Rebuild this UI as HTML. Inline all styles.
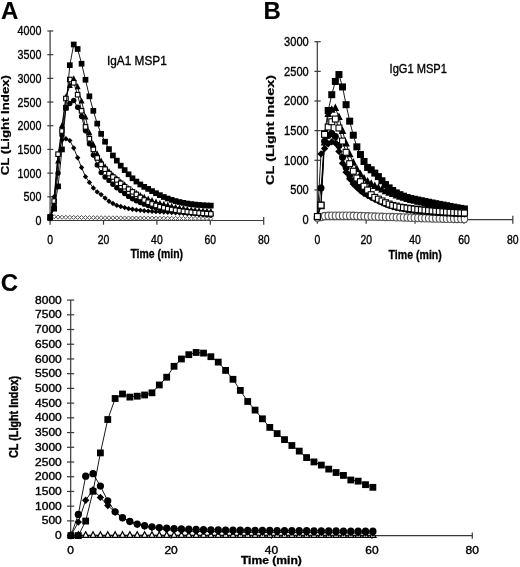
<!DOCTYPE html>
<html><head><meta charset="utf-8"><style>
html,body{margin:0;padding:0;background:#fff;width:520px;height:567px;overflow:hidden}
svg text{font-family:"Liberation Sans",sans-serif}
</style></head><body>
<svg width="520" height="567" viewBox="0 0 520 567" style="will-change:transform;display:block;font-family:'Liberation Sans', sans-serif">
<rect width="520" height="567" fill="#fff"/>
<g stroke="#383838" stroke-width="1.2" fill="none">
<path d="M50.10 30.98V220.50H263.70"/>
<path d="M47.30 220.50H53.30"/>
<path d="M47.30 196.81H53.30"/>
<path d="M47.30 173.12H53.30"/>
<path d="M47.30 149.43H53.30"/>
<path d="M47.30 125.74H53.30"/>
<path d="M47.30 102.05H53.30"/>
<path d="M47.30 78.36H53.30"/>
<path d="M47.30 54.67H53.30"/>
<path d="M47.30 30.98H53.30"/>
<path d="M50.10 220.50V224.70"/>
<path d="M103.50 220.50V224.70"/>
<path d="M156.90 220.50V224.70"/>
<path d="M210.30 220.50V224.70"/>
<path d="M263.70 217.00V224.70"/>
</g>
<text transform="translate(41.40,224.95) scale(0.870,1)" font-size="12.3" font-weight="normal" text-anchor="end" fill="#000" stroke="#000" stroke-width="0.35" >0</text>
<text transform="translate(41.40,201.26) scale(0.870,1)" font-size="12.3" font-weight="normal" text-anchor="end" fill="#000" stroke="#000" stroke-width="0.35" >500</text>
<text transform="translate(41.40,177.57) scale(0.870,1)" font-size="12.3" font-weight="normal" text-anchor="end" fill="#000" stroke="#000" stroke-width="0.35" >1000</text>
<text transform="translate(41.40,153.88) scale(0.870,1)" font-size="12.3" font-weight="normal" text-anchor="end" fill="#000" stroke="#000" stroke-width="0.35" >1500</text>
<text transform="translate(41.40,130.19) scale(0.870,1)" font-size="12.3" font-weight="normal" text-anchor="end" fill="#000" stroke="#000" stroke-width="0.35" >2000</text>
<text transform="translate(41.40,106.50) scale(0.870,1)" font-size="12.3" font-weight="normal" text-anchor="end" fill="#000" stroke="#000" stroke-width="0.35" >2500</text>
<text transform="translate(41.40,82.81) scale(0.870,1)" font-size="12.3" font-weight="normal" text-anchor="end" fill="#000" stroke="#000" stroke-width="0.35" >3000</text>
<text transform="translate(41.40,59.12) scale(0.870,1)" font-size="12.3" font-weight="normal" text-anchor="end" fill="#000" stroke="#000" stroke-width="0.35" >3500</text>
<text transform="translate(41.40,35.43) scale(0.870,1)" font-size="12.3" font-weight="normal" text-anchor="end" fill="#000" stroke="#000" stroke-width="0.35" >4000</text>
<text transform="translate(50.10,244.00) scale(0.870,1)" font-size="12.0" font-weight="normal" text-anchor="middle" fill="#000" stroke="#000" stroke-width="0.35" >0</text>
<text transform="translate(103.50,244.00) scale(0.870,1)" font-size="12.0" font-weight="normal" text-anchor="middle" fill="#000" stroke="#000" stroke-width="0.35" >20</text>
<text transform="translate(156.90,244.00) scale(0.870,1)" font-size="12.0" font-weight="normal" text-anchor="middle" fill="#000" stroke="#000" stroke-width="0.35" >40</text>
<text transform="translate(210.30,244.00) scale(0.870,1)" font-size="12.0" font-weight="normal" text-anchor="middle" fill="#000" stroke="#000" stroke-width="0.35" >60</text>
<text transform="translate(263.70,244.00) scale(0.870,1)" font-size="12.0" font-weight="normal" text-anchor="middle" fill="#000" stroke="#000" stroke-width="0.35" >80</text>
<text transform="translate(156.70,257.80) scale(0.830,1)" font-size="12.6" font-weight="bold" text-anchor="middle" fill="#000" stroke="#000" stroke-width="0.3" >Time (min)</text>
<text transform="translate(9.40,125.15) rotate(-90) scale(1.235,1)" font-size="10.7" font-weight="bold" text-anchor="middle" fill="#000" stroke="#000" stroke-width="0.2" >CL (Light Index)</text>
<text transform="translate(107.00,64.60) scale(0.890,1)" font-size="13.3" font-weight="normal" text-anchor="start" fill="#000" stroke="#000" stroke-width="0.35" >IgA1 MSP1</text>
<text transform="translate(1.00,18.80)" font-size="24" font-weight="bold" text-anchor="start" fill="#000" stroke="#000" stroke-width="0.12" >A</text>
<polyline points="50.23,214.90 54.15,216.72 58.07,217.10 61.98,217.28 65.90,217.34 69.82,217.38 73.73,217.42 77.65,217.46 81.57,217.51 85.49,217.55 89.40,217.60 93.32,217.64 97.24,217.69 101.15,217.73 105.07,217.77 108.99,217.81 112.90,217.84 116.82,217.88 120.74,217.92 124.65,217.95 128.57,217.99 132.49,218.02 136.41,218.06 140.32,218.09 144.24,218.12 148.16,218.16 152.07,218.19 155.99,218.22 159.91,218.25 163.82,218.28 167.74,218.31 171.66,218.34 175.57,218.37 179.49,218.40 183.41,218.43 187.32,218.45 191.24,218.48 195.16,218.51 199.08,218.53 202.99,218.56 206.91,218.58 210.83,218.60" fill="none" stroke="#333" stroke-width="0.9"/>
<path d="M50.23 212.85L52.28 214.90L50.23 216.95L48.18 214.90Z" fill="#fff" stroke="#444" stroke-width="0.9"/>
<path d="M54.15 214.67L56.20 216.72L54.15 218.77L52.10 216.72Z" fill="#fff" stroke="#444" stroke-width="0.9"/>
<path d="M58.07 215.05L60.12 217.10L58.07 219.15L56.02 217.10Z" fill="#fff" stroke="#444" stroke-width="0.9"/>
<path d="M61.98 215.23L64.03 217.28L61.98 219.33L59.93 217.28Z" fill="#fff" stroke="#444" stroke-width="0.9"/>
<path d="M65.90 215.29L67.95 217.34L65.90 219.39L63.85 217.34Z" fill="#fff" stroke="#444" stroke-width="0.9"/>
<path d="M69.82 215.33L71.87 217.38L69.82 219.43L67.77 217.38Z" fill="#fff" stroke="#444" stroke-width="0.9"/>
<path d="M73.73 215.37L75.78 217.42L73.73 219.47L71.68 217.42Z" fill="#fff" stroke="#444" stroke-width="0.9"/>
<path d="M77.65 215.41L79.70 217.46L77.65 219.51L75.60 217.46Z" fill="#fff" stroke="#444" stroke-width="0.9"/>
<path d="M81.57 215.46L83.62 217.51L81.57 219.56L79.52 217.51Z" fill="#fff" stroke="#444" stroke-width="0.9"/>
<path d="M85.49 215.50L87.54 217.55L85.49 219.60L83.44 217.55Z" fill="#fff" stroke="#444" stroke-width="0.9"/>
<path d="M89.40 215.55L91.45 217.60L89.40 219.65L87.35 217.60Z" fill="#fff" stroke="#444" stroke-width="0.9"/>
<path d="M93.32 215.59L95.37 217.64L93.32 219.69L91.27 217.64Z" fill="#fff" stroke="#444" stroke-width="0.9"/>
<path d="M97.24 215.64L99.29 217.69L97.24 219.74L95.19 217.69Z" fill="#fff" stroke="#444" stroke-width="0.9"/>
<path d="M101.15 215.68L103.20 217.73L101.15 219.78L99.10 217.73Z" fill="#fff" stroke="#444" stroke-width="0.9"/>
<path d="M105.07 215.72L107.12 217.77L105.07 219.82L103.02 217.77Z" fill="#fff" stroke="#444" stroke-width="0.9"/>
<path d="M108.99 215.76L111.04 217.81L108.99 219.86L106.94 217.81Z" fill="#fff" stroke="#444" stroke-width="0.9"/>
<path d="M112.90 215.79L114.95 217.84L112.90 219.89L110.85 217.84Z" fill="#fff" stroke="#444" stroke-width="0.9"/>
<path d="M116.82 215.83L118.87 217.88L116.82 219.93L114.77 217.88Z" fill="#fff" stroke="#444" stroke-width="0.9"/>
<path d="M120.74 215.87L122.79 217.92L120.74 219.97L118.69 217.92Z" fill="#fff" stroke="#444" stroke-width="0.9"/>
<path d="M124.65 215.90L126.70 217.95L124.65 220.00L122.60 217.95Z" fill="#fff" stroke="#444" stroke-width="0.9"/>
<path d="M128.57 215.94L130.62 217.99L128.57 220.04L126.52 217.99Z" fill="#fff" stroke="#444" stroke-width="0.9"/>
<path d="M132.49 215.97L134.54 218.02L132.49 220.07L130.44 218.02Z" fill="#fff" stroke="#444" stroke-width="0.9"/>
<path d="M136.41 216.01L138.46 218.06L136.41 220.11L134.36 218.06Z" fill="#fff" stroke="#444" stroke-width="0.9"/>
<path d="M140.32 216.04L142.37 218.09L140.32 220.14L138.27 218.09Z" fill="#fff" stroke="#444" stroke-width="0.9"/>
<path d="M144.24 216.07L146.29 218.12L144.24 220.17L142.19 218.12Z" fill="#fff" stroke="#444" stroke-width="0.9"/>
<path d="M148.16 216.11L150.21 218.16L148.16 220.21L146.11 218.16Z" fill="#fff" stroke="#444" stroke-width="0.9"/>
<path d="M152.07 216.14L154.12 218.19L152.07 220.24L150.02 218.19Z" fill="#fff" stroke="#444" stroke-width="0.9"/>
<path d="M155.99 216.17L158.04 218.22L155.99 220.27L153.94 218.22Z" fill="#fff" stroke="#444" stroke-width="0.9"/>
<path d="M159.91 216.20L161.96 218.25L159.91 220.30L157.86 218.25Z" fill="#fff" stroke="#444" stroke-width="0.9"/>
<path d="M163.82 216.23L165.87 218.28L163.82 220.33L161.77 218.28Z" fill="#fff" stroke="#444" stroke-width="0.9"/>
<path d="M167.74 216.26L169.79 218.31L167.74 220.36L165.69 218.31Z" fill="#fff" stroke="#444" stroke-width="0.9"/>
<path d="M171.66 216.29L173.71 218.34L171.66 220.39L169.61 218.34Z" fill="#fff" stroke="#444" stroke-width="0.9"/>
<path d="M175.57 216.32L177.62 218.37L175.57 220.42L173.52 218.37Z" fill="#fff" stroke="#444" stroke-width="0.9"/>
<path d="M179.49 216.35L181.54 218.40L179.49 220.45L177.44 218.40Z" fill="#fff" stroke="#444" stroke-width="0.9"/>
<path d="M183.41 216.38L185.46 218.43L183.41 220.48L181.36 218.43Z" fill="#fff" stroke="#444" stroke-width="0.9"/>
<path d="M187.32 216.40L189.37 218.45L187.32 220.50L185.27 218.45Z" fill="#fff" stroke="#444" stroke-width="0.9"/>
<path d="M191.24 216.43L193.29 218.48L191.24 220.53L189.19 218.48Z" fill="#fff" stroke="#444" stroke-width="0.9"/>
<path d="M195.16 216.46L197.21 218.51L195.16 220.56L193.11 218.51Z" fill="#fff" stroke="#444" stroke-width="0.9"/>
<path d="M199.08 216.48L201.13 218.53L199.08 220.58L197.03 218.53Z" fill="#fff" stroke="#444" stroke-width="0.9"/>
<path d="M202.99 216.51L205.04 218.56L202.99 220.61L200.94 218.56Z" fill="#fff" stroke="#444" stroke-width="0.9"/>
<path d="M206.91 216.53L208.96 218.58L206.91 220.63L204.86 218.58Z" fill="#fff" stroke="#444" stroke-width="0.9"/>
<path d="M210.83 216.55L212.88 218.60L210.83 220.65L208.78 218.60Z" fill="#fff" stroke="#444" stroke-width="0.9"/>
<polyline points="50.23,218.13 54.15,196.81 58.07,154.17 61.98,139.95 65.90,138.82 69.82,140.62 73.73,148.01 77.65,157.72 81.57,167.53 85.49,176.67 89.40,182.41 93.32,188.00 97.24,191.88 101.15,194.58 105.07,198.09 108.99,201.22 112.90,203.49 116.82,205.39 120.74,206.52 124.65,207.61 128.57,208.66 132.49,209.32 136.41,209.89 140.32,210.36 144.24,210.79 148.16,211.12 152.07,211.40 155.99,211.64 159.91,211.88 163.82,212.11 167.74,212.35 171.66,212.59 175.57,212.82 179.49,213.06 183.41,213.30 187.32,213.58 191.24,213.87 195.16,214.15 199.08,214.44 202.99,214.72 206.91,215.00 210.83,215.29" fill="none" stroke="#000" stroke-width="0.9"/>
<path d="M50.23 215.43L52.93 218.13L50.23 220.83L47.53 218.13Z" fill="#000"/>
<path d="M54.15 194.11L56.85 196.81L54.15 199.51L51.45 196.81Z" fill="#000"/>
<path d="M58.07 151.47L60.77 154.17L58.07 156.87L55.37 154.17Z" fill="#000"/>
<path d="M61.98 137.25L64.68 139.95L61.98 142.65L59.28 139.95Z" fill="#000"/>
<path d="M65.90 136.12L68.60 138.82L65.90 141.52L63.20 138.82Z" fill="#000"/>
<path d="M69.82 137.92L72.52 140.62L69.82 143.32L67.12 140.62Z" fill="#000"/>
<path d="M73.73 145.31L76.43 148.01L73.73 150.71L71.03 148.01Z" fill="#000"/>
<path d="M77.65 155.02L80.35 157.72L77.65 160.42L74.95 157.72Z" fill="#000"/>
<path d="M81.57 164.83L84.27 167.53L81.57 170.23L78.87 167.53Z" fill="#000"/>
<path d="M85.49 173.97L88.19 176.67L85.49 179.37L82.79 176.67Z" fill="#000"/>
<path d="M89.40 179.71L92.10 182.41L89.40 185.11L86.70 182.41Z" fill="#000"/>
<path d="M93.32 185.30L96.02 188.00L93.32 190.70L90.62 188.00Z" fill="#000"/>
<path d="M97.24 189.18L99.94 191.88L97.24 194.58L94.54 191.88Z" fill="#000"/>
<path d="M101.15 191.88L103.85 194.58L101.15 197.28L98.45 194.58Z" fill="#000"/>
<path d="M105.07 195.39L107.77 198.09L105.07 200.79L102.37 198.09Z" fill="#000"/>
<path d="M108.99 198.52L111.69 201.22L108.99 203.92L106.29 201.22Z" fill="#000"/>
<path d="M112.90 200.79L115.60 203.49L112.90 206.19L110.20 203.49Z" fill="#000"/>
<path d="M116.82 202.69L119.52 205.39L116.82 208.09L114.12 205.39Z" fill="#000"/>
<path d="M120.74 203.82L123.44 206.52L120.74 209.22L118.04 206.52Z" fill="#000"/>
<path d="M124.65 204.91L127.35 207.61L124.65 210.31L121.95 207.61Z" fill="#000"/>
<path d="M128.57 205.96L131.27 208.66L128.57 211.35L125.87 208.66Z" fill="#000"/>
<path d="M132.49 206.62L135.19 209.32L132.49 212.02L129.79 209.32Z" fill="#000"/>
<path d="M136.41 207.19L139.11 209.89L136.41 212.59L133.71 209.89Z" fill="#000"/>
<path d="M140.32 207.66L143.02 210.36L140.32 213.06L137.62 210.36Z" fill="#000"/>
<path d="M144.24 208.09L146.94 210.79L144.24 213.49L141.54 210.79Z" fill="#000"/>
<path d="M148.16 208.42L150.86 211.12L148.16 213.82L145.46 211.12Z" fill="#000"/>
<path d="M152.07 208.70L154.77 211.40L152.07 214.10L149.37 211.40Z" fill="#000"/>
<path d="M155.99 208.94L158.69 211.64L155.99 214.34L153.29 211.64Z" fill="#000"/>
<path d="M159.91 209.18L162.61 211.88L159.91 214.58L157.21 211.88Z" fill="#000"/>
<path d="M163.82 209.41L166.52 212.11L163.82 214.81L161.12 212.11Z" fill="#000"/>
<path d="M167.74 209.65L170.44 212.35L167.74 215.05L165.04 212.35Z" fill="#000"/>
<path d="M171.66 209.89L174.36 212.59L171.66 215.29L168.96 212.59Z" fill="#000"/>
<path d="M175.57 210.12L178.27 212.82L175.57 215.52L172.87 212.82Z" fill="#000"/>
<path d="M179.49 210.36L182.19 213.06L179.49 215.76L176.79 213.06Z" fill="#000"/>
<path d="M183.41 210.60L186.11 213.30L183.41 216.00L180.71 213.30Z" fill="#000"/>
<path d="M187.32 210.88L190.02 213.58L187.32 216.28L184.62 213.58Z" fill="#000"/>
<path d="M191.24 211.17L193.94 213.87L191.24 216.57L188.54 213.87Z" fill="#000"/>
<path d="M195.16 211.45L197.86 214.15L195.16 216.85L192.46 214.15Z" fill="#000"/>
<path d="M199.08 211.74L201.78 214.44L199.08 217.14L196.38 214.44Z" fill="#000"/>
<path d="M202.99 212.02L205.69 214.72L202.99 217.42L200.29 214.72Z" fill="#000"/>
<path d="M206.91 212.30L209.61 215.00L206.91 217.70L204.21 215.00Z" fill="#000"/>
<path d="M210.83 212.59L213.53 215.29L210.83 217.99L208.13 215.29Z" fill="#000"/>
<polyline points="50.23,218.13 54.15,206.29 58.07,173.12 61.98,135.22 65.90,108.02 69.82,103.47 73.73,100.49 77.65,107.26 81.57,116.50 85.49,130.81 89.40,143.74 93.32,155.12 97.24,165.07 101.15,172.60 105.07,177.01 108.99,180.42 112.90,184.30 116.82,187.71 120.74,190.60 124.65,193.49 128.57,196.38 132.49,198.80 136.41,200.79 140.32,202.50 144.24,204.15 148.16,205.58 152.07,206.76 155.99,207.80 159.91,208.75 163.82,209.51 167.74,210.17 171.66,210.79 175.57,211.31 179.49,211.78 183.41,212.21 187.32,212.63 191.24,213.01 195.16,213.39 199.08,213.77 202.99,214.10 206.91,214.44 210.83,214.81" fill="none" stroke="#000" stroke-width="0.9"/>
<circle cx="50.23" cy="218.13" r="2.70" fill="#000"/>
<circle cx="54.15" cy="206.29" r="2.70" fill="#000"/>
<circle cx="58.07" cy="173.12" r="2.70" fill="#000"/>
<circle cx="61.98" cy="135.22" r="2.70" fill="#000"/>
<circle cx="65.90" cy="108.02" r="2.70" fill="#000"/>
<circle cx="69.82" cy="103.47" r="2.70" fill="#000"/>
<circle cx="73.73" cy="100.49" r="2.70" fill="#000"/>
<circle cx="77.65" cy="107.26" r="2.70" fill="#000"/>
<circle cx="81.57" cy="116.50" r="2.70" fill="#000"/>
<circle cx="85.49" cy="130.81" r="2.70" fill="#000"/>
<circle cx="89.40" cy="143.74" r="2.70" fill="#000"/>
<circle cx="93.32" cy="155.12" r="2.70" fill="#000"/>
<circle cx="97.24" cy="165.07" r="2.70" fill="#000"/>
<circle cx="101.15" cy="172.60" r="2.70" fill="#000"/>
<circle cx="105.07" cy="177.01" r="2.70" fill="#000"/>
<circle cx="108.99" cy="180.42" r="2.70" fill="#000"/>
<circle cx="112.90" cy="184.30" r="2.70" fill="#000"/>
<circle cx="116.82" cy="187.71" r="2.70" fill="#000"/>
<circle cx="120.74" cy="190.60" r="2.70" fill="#000"/>
<circle cx="124.65" cy="193.49" r="2.70" fill="#000"/>
<circle cx="128.57" cy="196.38" r="2.70" fill="#000"/>
<circle cx="132.49" cy="198.80" r="2.70" fill="#000"/>
<circle cx="136.41" cy="200.79" r="2.70" fill="#000"/>
<circle cx="140.32" cy="202.50" r="2.70" fill="#000"/>
<circle cx="144.24" cy="204.15" r="2.70" fill="#000"/>
<circle cx="148.16" cy="205.58" r="2.70" fill="#000"/>
<circle cx="152.07" cy="206.76" r="2.70" fill="#000"/>
<circle cx="155.99" cy="207.80" r="2.70" fill="#000"/>
<circle cx="159.91" cy="208.75" r="2.70" fill="#000"/>
<circle cx="163.82" cy="209.51" r="2.70" fill="#000"/>
<circle cx="167.74" cy="210.17" r="2.70" fill="#000"/>
<circle cx="171.66" cy="210.79" r="2.70" fill="#000"/>
<circle cx="175.57" cy="211.31" r="2.70" fill="#000"/>
<circle cx="179.49" cy="211.78" r="2.70" fill="#000"/>
<circle cx="183.41" cy="212.21" r="2.70" fill="#000"/>
<circle cx="187.32" cy="212.63" r="2.70" fill="#000"/>
<circle cx="191.24" cy="213.01" r="2.70" fill="#000"/>
<circle cx="195.16" cy="213.39" r="2.70" fill="#000"/>
<circle cx="199.08" cy="213.77" r="2.70" fill="#000"/>
<circle cx="202.99" cy="214.10" r="2.70" fill="#000"/>
<circle cx="206.91" cy="214.44" r="2.70" fill="#000"/>
<circle cx="210.83" cy="214.81" r="2.70" fill="#000"/>
<polyline points="50.23,217.66 54.15,202.50 58.07,161.28 61.98,125.74 65.90,97.31 69.82,85.80 73.73,78.88 77.65,86.98 81.57,101.20 85.49,117.31 89.40,133.04 93.32,144.69 97.24,154.17 101.15,161.28 105.07,166.96 108.99,171.70 112.90,175.49 116.82,178.81 120.74,182.12 124.65,184.97 128.57,188.76 132.49,191.36 136.41,193.49 140.32,195.63 144.24,197.52 148.16,199.18 152.07,200.70 155.99,202.12 159.91,203.35 163.82,204.49 167.74,205.58 171.66,206.57 175.57,207.42 179.49,208.18 183.41,208.84 187.32,209.41 191.24,209.89 195.16,210.27 199.08,210.60 202.99,210.88 206.91,211.12 210.83,211.36" fill="none" stroke="#000" stroke-width="0.9"/>
<path d="M50.23 213.94L53.23 219.94L47.23 219.94Z" fill="#000"/>
<path d="M54.15 198.78L57.15 204.78L51.15 204.78Z" fill="#000"/>
<path d="M58.07 157.56L61.07 163.56L55.07 163.56Z" fill="#000"/>
<path d="M61.98 122.02L64.98 128.02L58.98 128.02Z" fill="#000"/>
<path d="M65.90 93.59L68.90 99.59L62.90 99.59Z" fill="#000"/>
<path d="M69.82 82.08L72.82 88.08L66.82 88.08Z" fill="#000"/>
<path d="M73.73 75.16L76.73 81.16L70.73 81.16Z" fill="#000"/>
<path d="M77.65 83.26L80.65 89.26L74.65 89.26Z" fill="#000"/>
<path d="M81.57 97.48L84.57 103.48L78.57 103.48Z" fill="#000"/>
<path d="M85.49 113.59L88.49 119.59L82.49 119.59Z" fill="#000"/>
<path d="M89.40 129.32L92.40 135.32L86.40 135.32Z" fill="#000"/>
<path d="M93.32 140.97L96.32 146.97L90.32 146.97Z" fill="#000"/>
<path d="M97.24 150.45L100.24 156.45L94.24 156.45Z" fill="#000"/>
<path d="M101.15 157.56L104.15 163.56L98.15 163.56Z" fill="#000"/>
<path d="M105.07 163.24L108.07 169.24L102.07 169.24Z" fill="#000"/>
<path d="M108.99 167.98L111.99 173.98L105.99 173.98Z" fill="#000"/>
<path d="M112.90 171.77L115.90 177.77L109.90 177.77Z" fill="#000"/>
<path d="M116.82 175.09L119.82 181.09L113.82 181.09Z" fill="#000"/>
<path d="M120.74 178.40L123.74 184.40L117.74 184.40Z" fill="#000"/>
<path d="M124.65 181.25L127.65 187.25L121.65 187.25Z" fill="#000"/>
<path d="M128.57 185.04L131.57 191.04L125.57 191.04Z" fill="#000"/>
<path d="M132.49 187.64L135.49 193.64L129.49 193.64Z" fill="#000"/>
<path d="M136.41 189.77L139.41 195.77L133.41 195.77Z" fill="#000"/>
<path d="M140.32 191.91L143.32 197.91L137.32 197.91Z" fill="#000"/>
<path d="M144.24 193.80L147.24 199.80L141.24 199.80Z" fill="#000"/>
<path d="M148.16 195.46L151.16 201.46L145.16 201.46Z" fill="#000"/>
<path d="M152.07 196.98L155.07 202.98L149.07 202.98Z" fill="#000"/>
<path d="M155.99 198.40L158.99 204.40L152.99 204.40Z" fill="#000"/>
<path d="M159.91 199.63L162.91 205.63L156.91 205.63Z" fill="#000"/>
<path d="M163.82 200.77L166.82 206.77L160.82 206.77Z" fill="#000"/>
<path d="M167.74 201.86L170.74 207.86L164.74 207.86Z" fill="#000"/>
<path d="M171.66 202.85L174.66 208.85L168.66 208.85Z" fill="#000"/>
<path d="M175.57 203.70L178.57 209.70L172.57 209.70Z" fill="#000"/>
<path d="M179.49 204.46L182.49 210.46L176.49 210.46Z" fill="#000"/>
<path d="M183.41 205.12L186.41 211.12L180.41 211.12Z" fill="#000"/>
<path d="M187.32 205.69L190.32 211.69L184.32 211.69Z" fill="#000"/>
<path d="M191.24 206.17L194.24 212.17L188.24 212.17Z" fill="#000"/>
<path d="M195.16 206.55L198.16 212.55L192.16 212.55Z" fill="#000"/>
<path d="M199.08 206.88L202.08 212.88L196.08 212.88Z" fill="#000"/>
<path d="M202.99 207.16L205.99 213.16L199.99 213.16Z" fill="#000"/>
<path d="M206.91 207.40L209.91 213.40L203.91 213.40Z" fill="#000"/>
<path d="M210.83 207.64L213.83 213.64L207.83 213.64Z" fill="#000"/>
<polyline points="50.23,217.18 54.15,201.07 58.07,154.17 61.98,131.00 65.90,98.50 69.82,79.50 73.73,82.81 77.65,94.71 81.57,110.82 85.49,126.92 89.40,138.82 93.32,149.43 97.24,157.96 101.15,164.40 105.07,169.19 108.99,173.59 112.90,177.01 116.82,179.90 120.74,183.31 124.65,186.72 128.57,189.13 132.49,191.88 136.41,194.39 140.32,197.43 144.24,199.98 148.16,202.21 152.07,203.92 155.99,205.43 159.91,206.76 163.82,207.80 167.74,208.75 171.66,209.51 175.57,210.17 179.49,210.79 183.41,211.31 187.32,211.78 191.24,212.21 195.16,212.63 199.08,213.01 202.99,213.35 206.91,213.63 210.83,213.91" fill="none" stroke="#000" stroke-width="0.9"/>
<rect x="47.98" y="214.93" width="4.50" height="4.50" fill="#fff" stroke="#000" stroke-width="1.1"/>
<rect x="51.90" y="198.82" width="4.50" height="4.50" fill="#fff" stroke="#000" stroke-width="1.1"/>
<rect x="55.82" y="151.92" width="4.50" height="4.50" fill="#fff" stroke="#000" stroke-width="1.1"/>
<rect x="59.73" y="128.75" width="4.50" height="4.50" fill="#fff" stroke="#000" stroke-width="1.1"/>
<rect x="63.65" y="96.25" width="4.50" height="4.50" fill="#fff" stroke="#000" stroke-width="1.1"/>
<rect x="67.57" y="77.25" width="4.50" height="4.50" fill="#fff" stroke="#000" stroke-width="1.1"/>
<rect x="71.48" y="80.56" width="4.50" height="4.50" fill="#fff" stroke="#000" stroke-width="1.1"/>
<rect x="75.40" y="92.46" width="4.50" height="4.50" fill="#fff" stroke="#000" stroke-width="1.1"/>
<rect x="79.32" y="108.57" width="4.50" height="4.50" fill="#fff" stroke="#000" stroke-width="1.1"/>
<rect x="83.24" y="124.67" width="4.50" height="4.50" fill="#fff" stroke="#000" stroke-width="1.1"/>
<rect x="87.15" y="136.57" width="4.50" height="4.50" fill="#fff" stroke="#000" stroke-width="1.1"/>
<rect x="91.07" y="147.18" width="4.50" height="4.50" fill="#fff" stroke="#000" stroke-width="1.1"/>
<rect x="94.99" y="155.71" width="4.50" height="4.50" fill="#fff" stroke="#000" stroke-width="1.1"/>
<rect x="98.90" y="162.15" width="4.50" height="4.50" fill="#fff" stroke="#000" stroke-width="1.1"/>
<rect x="102.82" y="166.94" width="4.50" height="4.50" fill="#fff" stroke="#000" stroke-width="1.1"/>
<rect x="106.74" y="171.34" width="4.50" height="4.50" fill="#fff" stroke="#000" stroke-width="1.1"/>
<rect x="110.65" y="174.76" width="4.50" height="4.50" fill="#fff" stroke="#000" stroke-width="1.1"/>
<rect x="114.57" y="177.65" width="4.50" height="4.50" fill="#fff" stroke="#000" stroke-width="1.1"/>
<rect x="118.49" y="181.06" width="4.50" height="4.50" fill="#fff" stroke="#000" stroke-width="1.1"/>
<rect x="122.40" y="184.47" width="4.50" height="4.50" fill="#fff" stroke="#000" stroke-width="1.1"/>
<rect x="126.32" y="186.88" width="4.50" height="4.50" fill="#fff" stroke="#000" stroke-width="1.1"/>
<rect x="130.24" y="189.63" width="4.50" height="4.50" fill="#fff" stroke="#000" stroke-width="1.1"/>
<rect x="134.16" y="192.14" width="4.50" height="4.50" fill="#fff" stroke="#000" stroke-width="1.1"/>
<rect x="138.07" y="195.18" width="4.50" height="4.50" fill="#fff" stroke="#000" stroke-width="1.1"/>
<rect x="141.99" y="197.73" width="4.50" height="4.50" fill="#fff" stroke="#000" stroke-width="1.1"/>
<rect x="145.91" y="199.96" width="4.50" height="4.50" fill="#fff" stroke="#000" stroke-width="1.1"/>
<rect x="149.82" y="201.67" width="4.50" height="4.50" fill="#fff" stroke="#000" stroke-width="1.1"/>
<rect x="153.74" y="203.18" width="4.50" height="4.50" fill="#fff" stroke="#000" stroke-width="1.1"/>
<rect x="157.66" y="204.51" width="4.50" height="4.50" fill="#fff" stroke="#000" stroke-width="1.1"/>
<rect x="161.57" y="205.55" width="4.50" height="4.50" fill="#fff" stroke="#000" stroke-width="1.1"/>
<rect x="165.49" y="206.50" width="4.50" height="4.50" fill="#fff" stroke="#000" stroke-width="1.1"/>
<rect x="169.41" y="207.26" width="4.50" height="4.50" fill="#fff" stroke="#000" stroke-width="1.1"/>
<rect x="173.32" y="207.92" width="4.50" height="4.50" fill="#fff" stroke="#000" stroke-width="1.1"/>
<rect x="177.24" y="208.54" width="4.50" height="4.50" fill="#fff" stroke="#000" stroke-width="1.1"/>
<rect x="181.16" y="209.06" width="4.50" height="4.50" fill="#fff" stroke="#000" stroke-width="1.1"/>
<rect x="185.07" y="209.53" width="4.50" height="4.50" fill="#fff" stroke="#000" stroke-width="1.1"/>
<rect x="188.99" y="209.96" width="4.50" height="4.50" fill="#fff" stroke="#000" stroke-width="1.1"/>
<rect x="192.91" y="210.38" width="4.50" height="4.50" fill="#fff" stroke="#000" stroke-width="1.1"/>
<rect x="196.83" y="210.76" width="4.50" height="4.50" fill="#fff" stroke="#000" stroke-width="1.1"/>
<rect x="200.74" y="211.10" width="4.50" height="4.50" fill="#fff" stroke="#000" stroke-width="1.1"/>
<rect x="204.66" y="211.38" width="4.50" height="4.50" fill="#fff" stroke="#000" stroke-width="1.1"/>
<rect x="208.58" y="211.66" width="4.50" height="4.50" fill="#fff" stroke="#000" stroke-width="1.1"/>
<polyline points="50.23,217.18 54.15,208.66 58.07,186.39 61.98,149.43 65.90,107.74 69.82,65.19 73.73,44.48 77.65,48.98 81.57,63.72 85.49,79.78 89.40,96.32 93.32,110.82 97.24,123.61 101.15,133.89 105.07,141.71 108.99,149.10 112.90,155.49 116.82,160.61 120.74,165.68 124.65,170.09 128.57,174.30 132.49,178.28 136.41,181.55 140.32,184.49 144.24,186.86 148.16,188.90 152.07,191.12 155.99,193.21 159.91,195.15 163.82,197.00 167.74,198.56 171.66,199.89 175.57,201.07 179.49,202.02 183.41,202.87 187.32,203.54 191.24,204.11 195.16,204.58 199.08,204.96 202.99,205.24 206.91,205.48 210.83,205.62" fill="none" stroke="#000" stroke-width="0.9"/>
<rect x="47.38" y="214.33" width="5.70" height="5.70" fill="#000"/>
<rect x="51.30" y="205.81" width="5.70" height="5.70" fill="#000"/>
<rect x="55.22" y="183.54" width="5.70" height="5.70" fill="#000"/>
<rect x="59.13" y="146.58" width="5.70" height="5.70" fill="#000"/>
<rect x="63.05" y="104.89" width="5.70" height="5.70" fill="#000"/>
<rect x="66.97" y="62.34" width="5.70" height="5.70" fill="#000"/>
<rect x="70.88" y="41.63" width="5.70" height="5.70" fill="#000"/>
<rect x="74.80" y="46.13" width="5.70" height="5.70" fill="#000"/>
<rect x="78.72" y="60.87" width="5.70" height="5.70" fill="#000"/>
<rect x="82.64" y="76.93" width="5.70" height="5.70" fill="#000"/>
<rect x="86.55" y="93.47" width="5.70" height="5.70" fill="#000"/>
<rect x="90.47" y="107.97" width="5.70" height="5.70" fill="#000"/>
<rect x="94.39" y="120.76" width="5.70" height="5.70" fill="#000"/>
<rect x="98.30" y="131.04" width="5.70" height="5.70" fill="#000"/>
<rect x="102.22" y="138.86" width="5.70" height="5.70" fill="#000"/>
<rect x="106.14" y="146.25" width="5.70" height="5.70" fill="#000"/>
<rect x="110.05" y="152.64" width="5.70" height="5.70" fill="#000"/>
<rect x="113.97" y="157.76" width="5.70" height="5.70" fill="#000"/>
<rect x="117.89" y="162.83" width="5.70" height="5.70" fill="#000"/>
<rect x="121.80" y="167.24" width="5.70" height="5.70" fill="#000"/>
<rect x="125.72" y="171.45" width="5.70" height="5.70" fill="#000"/>
<rect x="129.64" y="175.43" width="5.70" height="5.70" fill="#000"/>
<rect x="133.56" y="178.70" width="5.70" height="5.70" fill="#000"/>
<rect x="137.47" y="181.64" width="5.70" height="5.70" fill="#000"/>
<rect x="141.39" y="184.01" width="5.70" height="5.70" fill="#000"/>
<rect x="145.31" y="186.05" width="5.70" height="5.70" fill="#000"/>
<rect x="149.22" y="188.27" width="5.70" height="5.70" fill="#000"/>
<rect x="153.14" y="190.36" width="5.70" height="5.70" fill="#000"/>
<rect x="157.06" y="192.30" width="5.70" height="5.70" fill="#000"/>
<rect x="160.97" y="194.15" width="5.70" height="5.70" fill="#000"/>
<rect x="164.89" y="195.71" width="5.70" height="5.70" fill="#000"/>
<rect x="168.81" y="197.04" width="5.70" height="5.70" fill="#000"/>
<rect x="172.72" y="198.22" width="5.70" height="5.70" fill="#000"/>
<rect x="176.64" y="199.17" width="5.70" height="5.70" fill="#000"/>
<rect x="180.56" y="200.02" width="5.70" height="5.70" fill="#000"/>
<rect x="184.47" y="200.69" width="5.70" height="5.70" fill="#000"/>
<rect x="188.39" y="201.26" width="5.70" height="5.70" fill="#000"/>
<rect x="192.31" y="201.73" width="5.70" height="5.70" fill="#000"/>
<rect x="196.23" y="202.11" width="5.70" height="5.70" fill="#000"/>
<rect x="200.14" y="202.39" width="5.70" height="5.70" fill="#000"/>
<rect x="204.06" y="202.63" width="5.70" height="5.70" fill="#000"/>
<rect x="207.98" y="202.77" width="5.70" height="5.70" fill="#000"/>
<g stroke="#383838" stroke-width="1.2" fill="none">
<path d="M317.30 41.70V219.60H512.82"/>
<path d="M314.40 219.60H320.70"/>
<path d="M314.40 189.95H320.70"/>
<path d="M314.40 160.30H320.70"/>
<path d="M314.40 130.65H320.70"/>
<path d="M314.40 101.00H320.70"/>
<path d="M314.40 71.35H320.70"/>
<path d="M314.40 41.70H320.70"/>
<path d="M317.30 219.60V223.80"/>
<path d="M366.18 219.60V223.80"/>
<path d="M415.06 219.60V223.80"/>
<path d="M463.94 219.60V223.80"/>
<path d="M512.82 215.80V223.80"/>
</g>
<text transform="translate(308.70,224.05) scale(0.900,1)" font-size="12.3" font-weight="normal" text-anchor="end" fill="#000" stroke="#000" stroke-width="0.35" >0</text>
<text transform="translate(308.70,194.40) scale(0.900,1)" font-size="12.3" font-weight="normal" text-anchor="end" fill="#000" stroke="#000" stroke-width="0.35" >500</text>
<text transform="translate(308.70,164.75) scale(0.900,1)" font-size="12.3" font-weight="normal" text-anchor="end" fill="#000" stroke="#000" stroke-width="0.35" >1000</text>
<text transform="translate(308.70,135.10) scale(0.900,1)" font-size="12.3" font-weight="normal" text-anchor="end" fill="#000" stroke="#000" stroke-width="0.35" >1500</text>
<text transform="translate(308.70,105.45) scale(0.900,1)" font-size="12.3" font-weight="normal" text-anchor="end" fill="#000" stroke="#000" stroke-width="0.35" >2000</text>
<text transform="translate(308.70,75.80) scale(0.900,1)" font-size="12.3" font-weight="normal" text-anchor="end" fill="#000" stroke="#000" stroke-width="0.35" >2500</text>
<text transform="translate(308.70,46.15) scale(0.900,1)" font-size="12.3" font-weight="normal" text-anchor="end" fill="#000" stroke="#000" stroke-width="0.35" >3000</text>
<text transform="translate(317.30,243.50) scale(0.870,1)" font-size="12.0" font-weight="normal" text-anchor="middle" fill="#000" stroke="#000" stroke-width="0.35" >0</text>
<text transform="translate(366.18,243.50) scale(0.870,1)" font-size="12.0" font-weight="normal" text-anchor="middle" fill="#000" stroke="#000" stroke-width="0.35" >20</text>
<text transform="translate(415.06,243.50) scale(0.870,1)" font-size="12.0" font-weight="normal" text-anchor="middle" fill="#000" stroke="#000" stroke-width="0.35" >40</text>
<text transform="translate(463.94,243.50) scale(0.870,1)" font-size="12.0" font-weight="normal" text-anchor="middle" fill="#000" stroke="#000" stroke-width="0.35" >60</text>
<text transform="translate(512.82,243.50) scale(0.870,1)" font-size="12.0" font-weight="normal" text-anchor="middle" fill="#000" stroke="#000" stroke-width="0.35" >80</text>
<text transform="translate(415.20,258.50) scale(0.840,1)" font-size="12.6" font-weight="bold" text-anchor="middle" fill="#000" stroke="#000" stroke-width="0.3" >Time (min)</text>
<text transform="translate(273.80,129.90) rotate(-90) scale(1.368,1)" font-size="10.6" font-weight="bold" text-anchor="middle" fill="#000" stroke="#000" stroke-width="0.2" >CL (Light Index)</text>
<text transform="translate(389.60,72.70) scale(0.925,1)" font-size="12.0" font-weight="normal" text-anchor="start" fill="#000" stroke="#000" stroke-width="0.35" >IgG1 MSP1</text>
<text transform="translate(263.50,18.75)" font-size="24" font-weight="bold" text-anchor="start" fill="#000" stroke="#000" stroke-width="0.12" >B</text>
<ellipse cx="317.42" cy="217.79" rx="3.15" ry="3.71" fill="#fff" stroke="#555" stroke-width="1.1"/>
<ellipse cx="321.01" cy="216.92" rx="3.15" ry="3.71" fill="#fff" stroke="#555" stroke-width="1.1"/>
<ellipse cx="324.59" cy="216.05" rx="3.15" ry="3.71" fill="#fff" stroke="#555" stroke-width="1.1"/>
<ellipse cx="328.18" cy="215.83" rx="3.15" ry="3.71" fill="#fff" stroke="#555" stroke-width="1.1"/>
<ellipse cx="331.76" cy="215.75" rx="3.15" ry="3.71" fill="#fff" stroke="#555" stroke-width="1.1"/>
<ellipse cx="335.35" cy="215.75" rx="3.15" ry="3.71" fill="#fff" stroke="#555" stroke-width="1.1"/>
<ellipse cx="338.93" cy="215.75" rx="3.15" ry="3.71" fill="#fff" stroke="#555" stroke-width="1.1"/>
<ellipse cx="342.52" cy="215.75" rx="3.15" ry="3.71" fill="#fff" stroke="#555" stroke-width="1.1"/>
<ellipse cx="346.10" cy="215.75" rx="3.15" ry="3.71" fill="#fff" stroke="#555" stroke-width="1.1"/>
<ellipse cx="349.69" cy="215.77" rx="3.15" ry="3.71" fill="#fff" stroke="#555" stroke-width="1.1"/>
<ellipse cx="353.28" cy="215.86" rx="3.15" ry="3.71" fill="#fff" stroke="#555" stroke-width="1.1"/>
<ellipse cx="356.86" cy="215.99" rx="3.15" ry="3.71" fill="#fff" stroke="#555" stroke-width="1.1"/>
<ellipse cx="360.45" cy="216.13" rx="3.15" ry="3.71" fill="#fff" stroke="#555" stroke-width="1.1"/>
<ellipse cx="364.03" cy="216.27" rx="3.15" ry="3.71" fill="#fff" stroke="#555" stroke-width="1.1"/>
<ellipse cx="367.62" cy="216.38" rx="3.15" ry="3.71" fill="#fff" stroke="#555" stroke-width="1.1"/>
<ellipse cx="371.20" cy="216.49" rx="3.15" ry="3.71" fill="#fff" stroke="#555" stroke-width="1.1"/>
<ellipse cx="374.79" cy="216.59" rx="3.15" ry="3.71" fill="#fff" stroke="#555" stroke-width="1.1"/>
<ellipse cx="378.37" cy="216.69" rx="3.15" ry="3.71" fill="#fff" stroke="#555" stroke-width="1.1"/>
<ellipse cx="381.96" cy="216.79" rx="3.15" ry="3.71" fill="#fff" stroke="#555" stroke-width="1.1"/>
<ellipse cx="385.54" cy="216.90" rx="3.15" ry="3.71" fill="#fff" stroke="#555" stroke-width="1.1"/>
<ellipse cx="389.13" cy="217.00" rx="3.15" ry="3.71" fill="#fff" stroke="#555" stroke-width="1.1"/>
<ellipse cx="392.71" cy="217.11" rx="3.15" ry="3.71" fill="#fff" stroke="#555" stroke-width="1.1"/>
<ellipse cx="396.30" cy="217.22" rx="3.15" ry="3.71" fill="#fff" stroke="#555" stroke-width="1.1"/>
<ellipse cx="399.89" cy="217.33" rx="3.15" ry="3.71" fill="#fff" stroke="#555" stroke-width="1.1"/>
<ellipse cx="403.47" cy="217.45" rx="3.15" ry="3.71" fill="#fff" stroke="#555" stroke-width="1.1"/>
<ellipse cx="407.06" cy="217.58" rx="3.15" ry="3.71" fill="#fff" stroke="#555" stroke-width="1.1"/>
<ellipse cx="410.64" cy="217.72" rx="3.15" ry="3.71" fill="#fff" stroke="#555" stroke-width="1.1"/>
<ellipse cx="414.23" cy="217.86" rx="3.15" ry="3.71" fill="#fff" stroke="#555" stroke-width="1.1"/>
<ellipse cx="417.81" cy="217.99" rx="3.15" ry="3.71" fill="#fff" stroke="#555" stroke-width="1.1"/>
<ellipse cx="421.40" cy="218.12" rx="3.15" ry="3.71" fill="#fff" stroke="#555" stroke-width="1.1"/>
<ellipse cx="424.98" cy="218.23" rx="3.15" ry="3.71" fill="#fff" stroke="#555" stroke-width="1.1"/>
<ellipse cx="428.57" cy="218.33" rx="3.15" ry="3.71" fill="#fff" stroke="#555" stroke-width="1.1"/>
<ellipse cx="432.15" cy="218.42" rx="3.15" ry="3.71" fill="#fff" stroke="#555" stroke-width="1.1"/>
<ellipse cx="435.74" cy="218.50" rx="3.15" ry="3.71" fill="#fff" stroke="#555" stroke-width="1.1"/>
<ellipse cx="439.32" cy="218.59" rx="3.15" ry="3.71" fill="#fff" stroke="#555" stroke-width="1.1"/>
<ellipse cx="442.91" cy="218.66" rx="3.15" ry="3.71" fill="#fff" stroke="#555" stroke-width="1.1"/>
<ellipse cx="446.49" cy="218.74" rx="3.15" ry="3.71" fill="#fff" stroke="#555" stroke-width="1.1"/>
<ellipse cx="450.08" cy="218.81" rx="3.15" ry="3.71" fill="#fff" stroke="#555" stroke-width="1.1"/>
<ellipse cx="453.67" cy="218.87" rx="3.15" ry="3.71" fill="#fff" stroke="#555" stroke-width="1.1"/>
<ellipse cx="457.25" cy="218.92" rx="3.15" ry="3.71" fill="#fff" stroke="#555" stroke-width="1.1"/>
<ellipse cx="460.84" cy="218.97" rx="3.15" ry="3.71" fill="#fff" stroke="#555" stroke-width="1.1"/>
<ellipse cx="464.42" cy="219.01" rx="3.15" ry="3.71" fill="#fff" stroke="#555" stroke-width="1.1"/>
<polyline points="317.42,216.63 321.01,205.19 324.59,133.62 328.18,110.49 331.76,94.71 335.35,81.43 338.93,74.55 342.52,86.95 346.10,104.68 349.69,121.16 353.28,135.22 356.86,146.84 360.45,154.55 364.03,161.49 367.62,167.42 371.20,169.79 374.79,173.11 378.37,176.61 381.96,180.76 385.54,184.61 389.13,187.87 392.71,190.54 396.30,192.91 399.89,194.69 403.47,196.18 407.06,197.54 410.64,198.49 414.23,199.26 417.81,200.03 421.40,200.74 424.98,201.51 428.57,202.28 432.15,203.00 435.74,203.71 439.32,204.42 442.91,205.07 446.49,205.72 450.08,206.44 453.67,207.15 457.25,207.80 460.84,208.39 464.42,208.99" fill="none" stroke="#000" stroke-width="0.9"/>
<rect x="313.92" y="213.13" width="7.00" height="7.00" fill="#000"/>
<rect x="317.51" y="201.69" width="7.00" height="7.00" fill="#000"/>
<rect x="321.09" y="130.12" width="7.00" height="7.00" fill="#000"/>
<rect x="324.68" y="106.99" width="7.00" height="7.00" fill="#000"/>
<rect x="328.26" y="91.21" width="7.00" height="7.00" fill="#000"/>
<rect x="331.85" y="77.93" width="7.00" height="7.00" fill="#000"/>
<rect x="335.43" y="71.05" width="7.00" height="7.00" fill="#000"/>
<rect x="339.02" y="83.45" width="7.00" height="7.00" fill="#000"/>
<rect x="342.60" y="101.18" width="7.00" height="7.00" fill="#000"/>
<rect x="346.19" y="117.66" width="7.00" height="7.00" fill="#000"/>
<rect x="349.78" y="131.72" width="7.00" height="7.00" fill="#000"/>
<rect x="353.36" y="143.34" width="7.00" height="7.00" fill="#000"/>
<rect x="356.95" y="151.05" width="7.00" height="7.00" fill="#000"/>
<rect x="360.53" y="157.99" width="7.00" height="7.00" fill="#000"/>
<rect x="364.12" y="163.92" width="7.00" height="7.00" fill="#000"/>
<rect x="367.70" y="166.29" width="7.00" height="7.00" fill="#000"/>
<rect x="371.29" y="169.61" width="7.00" height="7.00" fill="#000"/>
<rect x="374.87" y="173.11" width="7.00" height="7.00" fill="#000"/>
<rect x="378.46" y="177.26" width="7.00" height="7.00" fill="#000"/>
<rect x="382.04" y="181.11" width="7.00" height="7.00" fill="#000"/>
<rect x="385.63" y="184.37" width="7.00" height="7.00" fill="#000"/>
<rect x="389.21" y="187.04" width="7.00" height="7.00" fill="#000"/>
<rect x="392.80" y="189.41" width="7.00" height="7.00" fill="#000"/>
<rect x="396.39" y="191.19" width="7.00" height="7.00" fill="#000"/>
<rect x="399.97" y="192.68" width="7.00" height="7.00" fill="#000"/>
<rect x="403.56" y="194.04" width="7.00" height="7.00" fill="#000"/>
<rect x="407.14" y="194.99" width="7.00" height="7.00" fill="#000"/>
<rect x="410.73" y="195.76" width="7.00" height="7.00" fill="#000"/>
<rect x="414.31" y="196.53" width="7.00" height="7.00" fill="#000"/>
<rect x="417.90" y="197.24" width="7.00" height="7.00" fill="#000"/>
<rect x="421.48" y="198.01" width="7.00" height="7.00" fill="#000"/>
<rect x="425.07" y="198.78" width="7.00" height="7.00" fill="#000"/>
<rect x="428.65" y="199.50" width="7.00" height="7.00" fill="#000"/>
<rect x="432.24" y="200.21" width="7.00" height="7.00" fill="#000"/>
<rect x="435.82" y="200.92" width="7.00" height="7.00" fill="#000"/>
<rect x="439.41" y="201.57" width="7.00" height="7.00" fill="#000"/>
<rect x="442.99" y="202.22" width="7.00" height="7.00" fill="#000"/>
<rect x="446.58" y="202.94" width="7.00" height="7.00" fill="#000"/>
<rect x="450.17" y="203.65" width="7.00" height="7.00" fill="#000"/>
<rect x="453.75" y="204.30" width="7.00" height="7.00" fill="#000"/>
<rect x="457.34" y="204.89" width="7.00" height="7.00" fill="#000"/>
<rect x="460.92" y="205.49" width="7.00" height="7.00" fill="#000"/>
<polyline points="317.42,216.63 321.01,206.26 324.59,142.51 328.18,114.05 331.76,109.89 335.35,108.12 338.93,117.19 342.52,131.01 346.10,143.70 349.69,154.37 353.28,162.67 356.86,169.19 360.45,174.53 364.03,178.68 367.62,181.65 371.20,184.02 374.79,186.10 378.37,187.87 381.96,189.65 385.54,191.25 389.13,192.80 392.71,194.22 396.30,195.58 399.89,196.83 403.47,197.96 407.06,199.02 410.64,200.03 414.23,200.98 417.81,201.81 421.40,202.58 424.98,203.41 428.57,204.18 432.15,204.89 435.74,205.55 439.32,206.20 442.91,206.85 446.49,207.44 450.08,208.04 453.67,208.63 457.25,209.22 460.84,209.82 464.42,210.41" fill="none" stroke="#000" stroke-width="0.9"/>
<path d="M317.42 211.92L321.22 219.52L313.62 219.52Z" fill="#000"/>
<path d="M321.01 201.55L324.81 209.15L317.21 209.15Z" fill="#000"/>
<path d="M324.59 137.80L328.39 145.40L320.79 145.40Z" fill="#000"/>
<path d="M328.18 109.33L331.98 116.93L324.38 116.93Z" fill="#000"/>
<path d="M331.76 105.18L335.56 112.78L327.96 112.78Z" fill="#000"/>
<path d="M335.35 103.40L339.15 111.00L331.55 111.00Z" fill="#000"/>
<path d="M338.93 112.48L342.73 120.08L335.13 120.08Z" fill="#000"/>
<path d="M342.52 126.29L346.32 133.89L338.72 133.89Z" fill="#000"/>
<path d="M346.10 138.98L349.90 146.58L342.30 146.58Z" fill="#000"/>
<path d="M349.69 149.66L353.49 157.26L345.89 157.26Z" fill="#000"/>
<path d="M353.28 157.96L357.08 165.56L349.48 165.56Z" fill="#000"/>
<path d="M356.86 164.48L360.66 172.08L353.06 172.08Z" fill="#000"/>
<path d="M360.45 169.82L364.25 177.42L356.65 177.42Z" fill="#000"/>
<path d="M364.03 173.97L367.83 181.57L360.23 181.57Z" fill="#000"/>
<path d="M367.62 176.94L371.42 184.54L363.82 184.54Z" fill="#000"/>
<path d="M371.20 179.31L375.00 186.91L367.40 186.91Z" fill="#000"/>
<path d="M374.79 181.38L378.59 188.98L370.99 188.98Z" fill="#000"/>
<path d="M378.37 183.16L382.17 190.76L374.57 190.76Z" fill="#000"/>
<path d="M381.96 184.94L385.76 192.54L378.16 192.54Z" fill="#000"/>
<path d="M385.54 186.54L389.34 194.14L381.74 194.14Z" fill="#000"/>
<path d="M389.13 188.08L392.93 195.68L385.33 195.68Z" fill="#000"/>
<path d="M392.71 189.51L396.51 197.11L388.91 197.11Z" fill="#000"/>
<path d="M396.30 190.87L400.10 198.47L392.50 198.47Z" fill="#000"/>
<path d="M399.89 192.12L403.69 199.72L396.09 199.72Z" fill="#000"/>
<path d="M403.47 193.24L407.27 200.84L399.67 200.84Z" fill="#000"/>
<path d="M407.06 194.31L410.86 201.91L403.26 201.91Z" fill="#000"/>
<path d="M410.64 195.32L414.44 202.92L406.84 202.92Z" fill="#000"/>
<path d="M414.23 196.27L418.03 203.87L410.43 203.87Z" fill="#000"/>
<path d="M417.81 197.10L421.61 204.70L414.01 204.70Z" fill="#000"/>
<path d="M421.40 197.87L425.20 205.47L417.60 205.47Z" fill="#000"/>
<path d="M424.98 198.70L428.78 206.30L421.18 206.30Z" fill="#000"/>
<path d="M428.57 199.47L432.37 207.07L424.77 207.07Z" fill="#000"/>
<path d="M432.15 200.18L435.95 207.78L428.35 207.78Z" fill="#000"/>
<path d="M435.74 200.83L439.54 208.43L431.94 208.43Z" fill="#000"/>
<path d="M439.32 201.49L443.12 209.09L435.52 209.09Z" fill="#000"/>
<path d="M442.91 202.14L446.71 209.74L439.11 209.74Z" fill="#000"/>
<path d="M446.49 202.73L450.29 210.33L442.69 210.33Z" fill="#000"/>
<path d="M450.08 203.32L453.88 210.92L446.28 210.92Z" fill="#000"/>
<path d="M453.67 203.92L457.47 211.52L449.87 211.52Z" fill="#000"/>
<path d="M457.25 204.51L461.05 212.11L453.45 212.11Z" fill="#000"/>
<path d="M460.84 205.10L464.64 212.70L457.04 212.70Z" fill="#000"/>
<path d="M464.42 205.70L468.22 213.30L460.62 213.30Z" fill="#000"/>
<polyline points="317.42,216.63 321.01,153.90 324.59,148.44 328.18,143.70 331.76,141.92 335.35,143.10 338.93,151.41 342.52,163.26 346.10,172.16 349.69,178.68 353.28,184.02 356.86,187.58 360.45,190.84 364.03,193.51 367.62,195.58 371.20,197.54 374.79,199.32 378.37,200.98 381.96,202.52 385.54,204.06 389.13,205.37 392.71,206.55 396.30,207.44 399.89,208.21 403.47,208.87 407.06,209.46 410.64,209.99 414.23,210.47 417.81,210.88 421.40,211.24 424.98,211.59 428.57,211.89 432.15,212.19 435.74,212.42 439.32,212.66 442.91,212.90 446.49,213.08 450.08,213.25 453.67,213.43 457.25,213.61 460.84,213.73 464.42,213.85" fill="none" stroke="#000" stroke-width="0.9"/>
<path d="M317.42 212.94L321.12 216.63L317.42 220.33L313.72 216.63Z" fill="#000"/>
<path d="M321.01 150.20L324.71 153.90L321.01 157.60L317.31 153.90Z" fill="#000"/>
<path d="M324.59 144.74L328.29 148.44L324.59 152.14L320.89 148.44Z" fill="#000"/>
<path d="M328.18 140.00L331.88 143.70L328.18 147.40L324.48 143.70Z" fill="#000"/>
<path d="M331.76 138.22L335.46 141.92L331.76 145.62L328.06 141.92Z" fill="#000"/>
<path d="M335.35 139.40L339.05 143.10L335.35 146.80L331.65 143.10Z" fill="#000"/>
<path d="M338.93 147.71L342.63 151.41L338.93 155.10L335.23 151.41Z" fill="#000"/>
<path d="M342.52 159.56L346.22 163.26L342.52 166.96L338.82 163.26Z" fill="#000"/>
<path d="M346.10 168.46L349.80 172.16L346.10 175.86L342.40 172.16Z" fill="#000"/>
<path d="M349.69 174.98L353.39 178.68L349.69 182.38L345.99 178.68Z" fill="#000"/>
<path d="M353.28 180.32L356.98 184.02L353.28 187.72L349.58 184.02Z" fill="#000"/>
<path d="M356.86 183.88L360.56 187.58L356.86 191.28L353.16 187.58Z" fill="#000"/>
<path d="M360.45 187.14L364.15 190.84L360.45 194.54L356.75 190.84Z" fill="#000"/>
<path d="M364.03 189.81L367.73 193.51L364.03 197.21L360.33 193.51Z" fill="#000"/>
<path d="M367.62 191.88L371.32 195.58L367.62 199.28L363.92 195.58Z" fill="#000"/>
<path d="M371.20 193.84L374.90 197.54L371.20 201.24L367.50 197.54Z" fill="#000"/>
<path d="M374.79 195.62L378.49 199.32L374.79 203.02L371.09 199.32Z" fill="#000"/>
<path d="M378.37 197.28L382.07 200.98L378.37 204.68L374.67 200.98Z" fill="#000"/>
<path d="M381.96 198.82L385.66 202.52L381.96 206.22L378.26 202.52Z" fill="#000"/>
<path d="M385.54 200.36L389.24 204.06L385.54 207.76L381.84 204.06Z" fill="#000"/>
<path d="M389.13 201.67L392.83 205.37L389.13 209.07L385.43 205.37Z" fill="#000"/>
<path d="M392.71 202.85L396.41 206.55L392.71 210.25L389.01 206.55Z" fill="#000"/>
<path d="M396.30 203.74L400.00 207.44L396.30 211.14L392.60 207.44Z" fill="#000"/>
<path d="M399.89 204.51L403.59 208.21L399.89 211.91L396.19 208.21Z" fill="#000"/>
<path d="M403.47 205.17L407.17 208.87L403.47 212.57L399.77 208.87Z" fill="#000"/>
<path d="M407.06 205.76L410.76 209.46L407.06 213.16L403.36 209.46Z" fill="#000"/>
<path d="M410.64 206.29L414.34 209.99L410.64 213.69L406.94 209.99Z" fill="#000"/>
<path d="M414.23 206.77L417.93 210.47L414.23 214.17L410.53 210.47Z" fill="#000"/>
<path d="M417.81 207.18L421.51 210.88L417.81 214.58L414.11 210.88Z" fill="#000"/>
<path d="M421.40 207.54L425.10 211.24L421.40 214.94L417.70 211.24Z" fill="#000"/>
<path d="M424.98 207.89L428.68 211.59L424.98 215.29L421.28 211.59Z" fill="#000"/>
<path d="M428.57 208.19L432.27 211.89L428.57 215.59L424.87 211.89Z" fill="#000"/>
<path d="M432.15 208.49L435.85 212.19L432.15 215.89L428.45 212.19Z" fill="#000"/>
<path d="M435.74 208.72L439.44 212.42L435.74 216.12L432.04 212.42Z" fill="#000"/>
<path d="M439.32 208.96L443.02 212.66L439.32 216.36L435.62 212.66Z" fill="#000"/>
<path d="M442.91 209.20L446.61 212.90L442.91 216.60L439.21 212.90Z" fill="#000"/>
<path d="M446.49 209.38L450.19 213.08L446.49 216.78L442.79 213.08Z" fill="#000"/>
<path d="M450.08 209.55L453.78 213.25L450.08 216.95L446.38 213.25Z" fill="#000"/>
<path d="M453.67 209.73L457.37 213.43L453.67 217.13L449.97 213.43Z" fill="#000"/>
<path d="M457.25 209.91L460.95 213.61L457.25 217.31L453.55 213.61Z" fill="#000"/>
<path d="M460.84 210.03L464.54 213.73L460.84 217.43L457.14 213.73Z" fill="#000"/>
<path d="M464.42 210.15L468.12 213.85L464.42 217.55L460.72 213.85Z" fill="#000"/>
<polyline points="317.42,216.63 321.01,187.99 324.59,141.21 328.18,135.39 331.76,133.62 335.35,136.58 338.93,145.47 342.52,157.33 346.10,167.42 349.69,175.12 353.28,181.06 356.86,185.21 360.45,188.76 364.03,191.73 367.62,194.10 371.20,196.18 374.79,198.25 378.37,200.03 381.96,201.81 385.54,203.47 389.13,204.89 392.71,206.08 396.30,207.03 399.89,207.86 403.47,208.57 407.06,209.16 410.64,209.70 414.23,210.17 417.81,210.59 421.40,210.94 424.98,211.30 428.57,211.59 432.15,211.89 435.74,212.19 439.32,212.42 442.91,212.66 446.49,212.90 450.08,213.08 453.67,213.25 457.25,213.43 460.84,213.55 464.42,213.67" fill="none" stroke="#000" stroke-width="0.9"/>
<circle cx="317.42" cy="216.63" r="3.50" fill="#000"/>
<circle cx="321.01" cy="187.99" r="3.50" fill="#000"/>
<circle cx="324.59" cy="141.21" r="3.50" fill="#000"/>
<circle cx="328.18" cy="135.39" r="3.50" fill="#000"/>
<circle cx="331.76" cy="133.62" r="3.50" fill="#000"/>
<circle cx="335.35" cy="136.58" r="3.50" fill="#000"/>
<circle cx="338.93" cy="145.47" r="3.50" fill="#000"/>
<circle cx="342.52" cy="157.33" r="3.50" fill="#000"/>
<circle cx="346.10" cy="167.42" r="3.50" fill="#000"/>
<circle cx="349.69" cy="175.12" r="3.50" fill="#000"/>
<circle cx="353.28" cy="181.06" r="3.50" fill="#000"/>
<circle cx="356.86" cy="185.21" r="3.50" fill="#000"/>
<circle cx="360.45" cy="188.76" r="3.50" fill="#000"/>
<circle cx="364.03" cy="191.73" r="3.50" fill="#000"/>
<circle cx="367.62" cy="194.10" r="3.50" fill="#000"/>
<circle cx="371.20" cy="196.18" r="3.50" fill="#000"/>
<circle cx="374.79" cy="198.25" r="3.50" fill="#000"/>
<circle cx="378.37" cy="200.03" r="3.50" fill="#000"/>
<circle cx="381.96" cy="201.81" r="3.50" fill="#000"/>
<circle cx="385.54" cy="203.47" r="3.50" fill="#000"/>
<circle cx="389.13" cy="204.89" r="3.50" fill="#000"/>
<circle cx="392.71" cy="206.08" r="3.50" fill="#000"/>
<circle cx="396.30" cy="207.03" r="3.50" fill="#000"/>
<circle cx="399.89" cy="207.86" r="3.50" fill="#000"/>
<circle cx="403.47" cy="208.57" r="3.50" fill="#000"/>
<circle cx="407.06" cy="209.16" r="3.50" fill="#000"/>
<circle cx="410.64" cy="209.70" r="3.50" fill="#000"/>
<circle cx="414.23" cy="210.17" r="3.50" fill="#000"/>
<circle cx="417.81" cy="210.59" r="3.50" fill="#000"/>
<circle cx="421.40" cy="210.94" r="3.50" fill="#000"/>
<circle cx="424.98" cy="211.30" r="3.50" fill="#000"/>
<circle cx="428.57" cy="211.59" r="3.50" fill="#000"/>
<circle cx="432.15" cy="211.89" r="3.50" fill="#000"/>
<circle cx="435.74" cy="212.19" r="3.50" fill="#000"/>
<circle cx="439.32" cy="212.42" r="3.50" fill="#000"/>
<circle cx="442.91" cy="212.66" r="3.50" fill="#000"/>
<circle cx="446.49" cy="212.90" r="3.50" fill="#000"/>
<circle cx="450.08" cy="213.08" r="3.50" fill="#000"/>
<circle cx="453.67" cy="213.25" r="3.50" fill="#000"/>
<circle cx="457.25" cy="213.43" r="3.50" fill="#000"/>
<circle cx="460.84" cy="213.55" r="3.50" fill="#000"/>
<circle cx="464.42" cy="213.67" r="3.50" fill="#000"/>
<polyline points="317.42,216.52 321.01,205.19 324.59,134.39 328.18,127.03 331.76,121.75 335.35,119.03 338.93,127.98 342.52,141.03 346.10,152.29 349.69,163.68 353.28,171.21 356.86,178.03 360.45,181.71 364.03,186.21 367.62,190.01 371.20,194.69 374.79,197.36 378.37,199.14 381.96,200.92 385.54,202.70 389.13,204.06 392.71,205.37 396.30,206.08 399.89,207.09 403.47,207.62 407.06,208.10 410.64,208.63 414.23,209.10 417.81,209.52 421.40,209.87 424.98,210.23 428.57,210.59 432.15,210.94 435.74,211.24 439.32,211.54 442.91,211.83 446.49,212.07 450.08,212.31 453.67,212.54 457.25,212.72 460.84,212.90 464.42,213.02" fill="none" stroke="#000" stroke-width="0.9"/>
<rect x="314.47" y="213.57" width="5.90" height="5.90" fill="#fff" stroke="#000" stroke-width="1.1"/>
<rect x="318.06" y="202.24" width="5.90" height="5.90" fill="#fff" stroke="#000" stroke-width="1.1"/>
<rect x="321.64" y="131.44" width="5.90" height="5.90" fill="#fff" stroke="#000" stroke-width="1.1"/>
<rect x="325.23" y="124.08" width="5.90" height="5.90" fill="#fff" stroke="#000" stroke-width="1.1"/>
<rect x="328.81" y="118.80" width="5.90" height="5.90" fill="#fff" stroke="#000" stroke-width="1.1"/>
<rect x="332.40" y="116.08" width="5.90" height="5.90" fill="#fff" stroke="#000" stroke-width="1.1"/>
<rect x="335.98" y="125.03" width="5.90" height="5.90" fill="#fff" stroke="#000" stroke-width="1.1"/>
<rect x="339.57" y="138.08" width="5.90" height="5.90" fill="#fff" stroke="#000" stroke-width="1.1"/>
<rect x="343.15" y="149.34" width="5.90" height="5.90" fill="#fff" stroke="#000" stroke-width="1.1"/>
<rect x="346.74" y="160.73" width="5.90" height="5.90" fill="#fff" stroke="#000" stroke-width="1.1"/>
<rect x="350.33" y="168.26" width="5.90" height="5.90" fill="#fff" stroke="#000" stroke-width="1.1"/>
<rect x="353.91" y="175.08" width="5.90" height="5.90" fill="#fff" stroke="#000" stroke-width="1.1"/>
<rect x="357.50" y="178.76" width="5.90" height="5.90" fill="#fff" stroke="#000" stroke-width="1.1"/>
<rect x="361.08" y="183.26" width="5.90" height="5.90" fill="#fff" stroke="#000" stroke-width="1.1"/>
<rect x="364.67" y="187.06" width="5.90" height="5.90" fill="#fff" stroke="#000" stroke-width="1.1"/>
<rect x="368.25" y="191.74" width="5.90" height="5.90" fill="#fff" stroke="#000" stroke-width="1.1"/>
<rect x="371.84" y="194.41" width="5.90" height="5.90" fill="#fff" stroke="#000" stroke-width="1.1"/>
<rect x="375.42" y="196.19" width="5.90" height="5.90" fill="#fff" stroke="#000" stroke-width="1.1"/>
<rect x="379.01" y="197.97" width="5.90" height="5.90" fill="#fff" stroke="#000" stroke-width="1.1"/>
<rect x="382.59" y="199.75" width="5.90" height="5.90" fill="#fff" stroke="#000" stroke-width="1.1"/>
<rect x="386.18" y="201.11" width="5.90" height="5.90" fill="#fff" stroke="#000" stroke-width="1.1"/>
<rect x="389.76" y="202.42" width="5.90" height="5.90" fill="#fff" stroke="#000" stroke-width="1.1"/>
<rect x="393.35" y="203.13" width="5.90" height="5.90" fill="#fff" stroke="#000" stroke-width="1.1"/>
<rect x="396.94" y="204.14" width="5.90" height="5.90" fill="#fff" stroke="#000" stroke-width="1.1"/>
<rect x="400.52" y="204.67" width="5.90" height="5.90" fill="#fff" stroke="#000" stroke-width="1.1"/>
<rect x="404.11" y="205.15" width="5.90" height="5.90" fill="#fff" stroke="#000" stroke-width="1.1"/>
<rect x="407.69" y="205.68" width="5.90" height="5.90" fill="#fff" stroke="#000" stroke-width="1.1"/>
<rect x="411.28" y="206.15" width="5.90" height="5.90" fill="#fff" stroke="#000" stroke-width="1.1"/>
<rect x="414.86" y="206.57" width="5.90" height="5.90" fill="#fff" stroke="#000" stroke-width="1.1"/>
<rect x="418.45" y="206.92" width="5.90" height="5.90" fill="#fff" stroke="#000" stroke-width="1.1"/>
<rect x="422.03" y="207.28" width="5.90" height="5.90" fill="#fff" stroke="#000" stroke-width="1.1"/>
<rect x="425.62" y="207.64" width="5.90" height="5.90" fill="#fff" stroke="#000" stroke-width="1.1"/>
<rect x="429.20" y="207.99" width="5.90" height="5.90" fill="#fff" stroke="#000" stroke-width="1.1"/>
<rect x="432.79" y="208.29" width="5.90" height="5.90" fill="#fff" stroke="#000" stroke-width="1.1"/>
<rect x="436.37" y="208.59" width="5.90" height="5.90" fill="#fff" stroke="#000" stroke-width="1.1"/>
<rect x="439.96" y="208.88" width="5.90" height="5.90" fill="#fff" stroke="#000" stroke-width="1.1"/>
<rect x="443.54" y="209.12" width="5.90" height="5.90" fill="#fff" stroke="#000" stroke-width="1.1"/>
<rect x="447.13" y="209.36" width="5.90" height="5.90" fill="#fff" stroke="#000" stroke-width="1.1"/>
<rect x="450.72" y="209.59" width="5.90" height="5.90" fill="#fff" stroke="#000" stroke-width="1.1"/>
<rect x="454.30" y="209.77" width="5.90" height="5.90" fill="#fff" stroke="#000" stroke-width="1.1"/>
<rect x="457.89" y="209.95" width="5.90" height="5.90" fill="#fff" stroke="#000" stroke-width="1.1"/>
<rect x="461.47" y="210.07" width="5.90" height="5.90" fill="#fff" stroke="#000" stroke-width="1.1"/>
<g stroke="#383838" stroke-width="1.2" fill="none">
<path d="M70.70 300.08V535.60H472.30"/>
<path d="M67.00 535.60H74.20"/>
<path d="M67.00 520.88H74.20"/>
<path d="M67.00 506.16H74.20"/>
<path d="M67.00 491.44H74.20"/>
<path d="M67.00 476.72H74.20"/>
<path d="M67.00 462.00H74.20"/>
<path d="M67.00 447.28H74.20"/>
<path d="M67.00 432.56H74.20"/>
<path d="M67.00 417.84H74.20"/>
<path d="M67.00 403.12H74.20"/>
<path d="M67.00 388.40H74.20"/>
<path d="M67.00 373.68H74.20"/>
<path d="M67.00 358.96H74.20"/>
<path d="M67.00 344.24H74.20"/>
<path d="M67.00 329.52H74.20"/>
<path d="M67.00 314.80H74.20"/>
<path d="M67.00 300.08H74.20"/>
<path d="M70.70 535.60V538.80"/>
<path d="M171.10 535.60V538.80"/>
<path d="M271.50 535.60V538.80"/>
<path d="M371.90 535.60V538.80"/>
<path d="M472.30 532.40V538.80"/>
</g>
<text transform="translate(61.80,539.20) scale(1.190,1)" font-size="10.1" font-weight="normal" text-anchor="end" fill="#000" stroke="#000" stroke-width="0.35" >0</text>
<text transform="translate(61.80,524.48) scale(1.190,1)" font-size="10.1" font-weight="normal" text-anchor="end" fill="#000" stroke="#000" stroke-width="0.35" >500</text>
<text transform="translate(61.80,509.76) scale(1.190,1)" font-size="10.1" font-weight="normal" text-anchor="end" fill="#000" stroke="#000" stroke-width="0.35" >1000</text>
<text transform="translate(61.80,495.04) scale(1.190,1)" font-size="10.1" font-weight="normal" text-anchor="end" fill="#000" stroke="#000" stroke-width="0.35" >1500</text>
<text transform="translate(61.80,480.32) scale(1.190,1)" font-size="10.1" font-weight="normal" text-anchor="end" fill="#000" stroke="#000" stroke-width="0.35" >2000</text>
<text transform="translate(61.80,465.60) scale(1.190,1)" font-size="10.1" font-weight="normal" text-anchor="end" fill="#000" stroke="#000" stroke-width="0.35" >2500</text>
<text transform="translate(61.80,450.88) scale(1.190,1)" font-size="10.1" font-weight="normal" text-anchor="end" fill="#000" stroke="#000" stroke-width="0.35" >3000</text>
<text transform="translate(61.80,436.16) scale(1.190,1)" font-size="10.1" font-weight="normal" text-anchor="end" fill="#000" stroke="#000" stroke-width="0.35" >3500</text>
<text transform="translate(61.80,421.44) scale(1.190,1)" font-size="10.1" font-weight="normal" text-anchor="end" fill="#000" stroke="#000" stroke-width="0.35" >4000</text>
<text transform="translate(61.80,406.72) scale(1.190,1)" font-size="10.1" font-weight="normal" text-anchor="end" fill="#000" stroke="#000" stroke-width="0.35" >4500</text>
<text transform="translate(61.80,392.00) scale(1.190,1)" font-size="10.1" font-weight="normal" text-anchor="end" fill="#000" stroke="#000" stroke-width="0.35" >5000</text>
<text transform="translate(61.80,377.28) scale(1.190,1)" font-size="10.1" font-weight="normal" text-anchor="end" fill="#000" stroke="#000" stroke-width="0.35" >5500</text>
<text transform="translate(61.80,362.56) scale(1.190,1)" font-size="10.1" font-weight="normal" text-anchor="end" fill="#000" stroke="#000" stroke-width="0.35" >6000</text>
<text transform="translate(61.80,347.84) scale(1.190,1)" font-size="10.1" font-weight="normal" text-anchor="end" fill="#000" stroke="#000" stroke-width="0.35" >6500</text>
<text transform="translate(61.80,333.12) scale(1.190,1)" font-size="10.1" font-weight="normal" text-anchor="end" fill="#000" stroke="#000" stroke-width="0.35" >7000</text>
<text transform="translate(61.80,318.40) scale(1.190,1)" font-size="10.1" font-weight="normal" text-anchor="end" fill="#000" stroke="#000" stroke-width="0.35" >7500</text>
<text transform="translate(61.80,303.68) scale(1.190,1)" font-size="10.1" font-weight="normal" text-anchor="end" fill="#000" stroke="#000" stroke-width="0.35" >8000</text>
<text transform="translate(70.70,554.00) scale(1.190,1)" font-size="10.1" font-weight="normal" text-anchor="middle" fill="#000" stroke="#000" stroke-width="0.35" >0</text>
<text transform="translate(171.10,554.00) scale(1.190,1)" font-size="10.1" font-weight="normal" text-anchor="middle" fill="#000" stroke="#000" stroke-width="0.35" >20</text>
<text transform="translate(271.50,554.00) scale(1.190,1)" font-size="10.1" font-weight="normal" text-anchor="middle" fill="#000" stroke="#000" stroke-width="0.35" >40</text>
<text transform="translate(371.90,554.00) scale(1.190,1)" font-size="10.1" font-weight="normal" text-anchor="middle" fill="#000" stroke="#000" stroke-width="0.35" >60</text>
<text transform="translate(472.30,554.00) scale(1.190,1)" font-size="10.1" font-weight="normal" text-anchor="middle" fill="#000" stroke="#000" stroke-width="0.35" >80</text>
<text transform="translate(271.35,563.50) scale(1.175,1)" font-size="10.3" font-weight="bold" text-anchor="middle" fill="#000" stroke="#000" stroke-width="0.3" >Time (min)</text>
<text transform="translate(18.20,417.00) rotate(-90) scale(0.886,1)" font-size="12.2" font-weight="bold" text-anchor="middle" fill="#000" stroke="#000" stroke-width="0.4" >CL (Light Index)</text>
<text transform="translate(0.80,290.80)" font-size="24" font-weight="bold" text-anchor="start" fill="#000" stroke="#000" stroke-width="0.12" >C</text>
<polyline points="70.95,535.16 78.32,535.16 85.68,535.16 93.04,535.16 100.41,535.16 107.77,535.16 115.14,535.16 122.50,535.16 129.87,535.16 137.23,535.16 144.59,535.16 151.96,535.16 159.32,535.16 166.69,535.16 174.05,535.16 181.42,535.16 188.78,535.16 196.14,535.16 203.51,535.16 210.87,535.16 218.24,535.16 225.60,535.16 232.97,535.16 240.33,535.16 247.70,535.16 255.06,535.16 262.42,535.16 269.79,535.16 277.15,535.16 284.52,535.16 291.88,535.16 299.25,535.16 306.61,535.16 313.97,535.16 321.34,535.16 328.70,535.16 336.07,535.16 343.43,535.16 350.80,535.16 358.16,535.16 365.52,535.16 372.89,535.16" fill="none" stroke="#000" stroke-width="0.9"/>
<path d="M70.95 531.82L74.03 537.35L67.88 537.35Z" fill="#fff" stroke="#000" stroke-width="1.25" stroke-linejoin="miter"/>
<path d="M78.32 531.82L81.39 537.35L75.24 537.35Z" fill="#fff" stroke="#000" stroke-width="1.25" stroke-linejoin="miter"/>
<path d="M85.68 531.82L88.75 537.35L82.60 537.35Z" fill="#fff" stroke="#000" stroke-width="1.25" stroke-linejoin="miter"/>
<path d="M93.04 531.82L96.12 537.35L89.97 537.35Z" fill="#fff" stroke="#000" stroke-width="1.25" stroke-linejoin="miter"/>
<path d="M100.41 531.82L103.48 537.35L97.33 537.35Z" fill="#fff" stroke="#000" stroke-width="1.25" stroke-linejoin="miter"/>
<path d="M107.77 531.82L110.85 537.35L104.70 537.35Z" fill="#fff" stroke="#000" stroke-width="1.25" stroke-linejoin="miter"/>
<path d="M115.14 531.82L118.21 537.35L112.06 537.35Z" fill="#fff" stroke="#000" stroke-width="1.25" stroke-linejoin="miter"/>
<path d="M122.50 531.82L125.58 537.35L119.43 537.35Z" fill="#fff" stroke="#000" stroke-width="1.25" stroke-linejoin="miter"/>
<path d="M129.87 531.82L132.94 537.35L126.79 537.35Z" fill="#fff" stroke="#000" stroke-width="1.25" stroke-linejoin="miter"/>
<path d="M137.23 531.82L140.31 537.35L134.16 537.35Z" fill="#fff" stroke="#000" stroke-width="1.25" stroke-linejoin="miter"/>
<path d="M144.59 531.82L147.67 537.35L141.52 537.35Z" fill="#fff" stroke="#000" stroke-width="1.25" stroke-linejoin="miter"/>
<path d="M151.96 531.82L155.03 537.35L148.88 537.35Z" fill="#fff" stroke="#000" stroke-width="1.25" stroke-linejoin="miter"/>
<path d="M159.32 531.82L162.40 537.35L156.25 537.35Z" fill="#fff" stroke="#000" stroke-width="1.25" stroke-linejoin="miter"/>
<path d="M166.69 531.82L169.76 537.35L163.61 537.35Z" fill="#fff" stroke="#000" stroke-width="1.25" stroke-linejoin="miter"/>
<path d="M174.05 531.82L177.13 537.35L170.98 537.35Z" fill="#fff" stroke="#000" stroke-width="1.25" stroke-linejoin="miter"/>
<path d="M181.42 531.82L184.49 537.35L178.34 537.35Z" fill="#fff" stroke="#000" stroke-width="1.25" stroke-linejoin="miter"/>
<path d="M188.78 531.82L191.86 537.35L185.71 537.35Z" fill="#fff" stroke="#000" stroke-width="1.25" stroke-linejoin="miter"/>
<path d="M196.14 531.82L199.22 537.35L193.07 537.35Z" fill="#fff" stroke="#000" stroke-width="1.25" stroke-linejoin="miter"/>
<path d="M203.51 531.82L206.58 537.35L200.43 537.35Z" fill="#fff" stroke="#000" stroke-width="1.25" stroke-linejoin="miter"/>
<path d="M210.87 531.82L213.95 537.35L207.80 537.35Z" fill="#fff" stroke="#000" stroke-width="1.25" stroke-linejoin="miter"/>
<path d="M218.24 531.82L221.31 537.35L215.16 537.35Z" fill="#fff" stroke="#000" stroke-width="1.25" stroke-linejoin="miter"/>
<path d="M225.60 531.82L228.68 537.35L222.53 537.35Z" fill="#fff" stroke="#000" stroke-width="1.25" stroke-linejoin="miter"/>
<path d="M232.97 531.82L236.04 537.35L229.89 537.35Z" fill="#fff" stroke="#000" stroke-width="1.25" stroke-linejoin="miter"/>
<path d="M240.33 531.82L243.41 537.35L237.26 537.35Z" fill="#fff" stroke="#000" stroke-width="1.25" stroke-linejoin="miter"/>
<path d="M247.70 531.82L250.77 537.35L244.62 537.35Z" fill="#fff" stroke="#000" stroke-width="1.25" stroke-linejoin="miter"/>
<path d="M255.06 531.82L258.13 537.35L251.98 537.35Z" fill="#fff" stroke="#000" stroke-width="1.25" stroke-linejoin="miter"/>
<path d="M262.42 531.82L265.50 537.35L259.35 537.35Z" fill="#fff" stroke="#000" stroke-width="1.25" stroke-linejoin="miter"/>
<path d="M269.79 531.82L272.86 537.35L266.71 537.35Z" fill="#fff" stroke="#000" stroke-width="1.25" stroke-linejoin="miter"/>
<path d="M277.15 531.82L280.23 537.35L274.08 537.35Z" fill="#fff" stroke="#000" stroke-width="1.25" stroke-linejoin="miter"/>
<path d="M284.52 531.82L287.59 537.35L281.44 537.35Z" fill="#fff" stroke="#000" stroke-width="1.25" stroke-linejoin="miter"/>
<path d="M291.88 531.82L294.96 537.35L288.81 537.35Z" fill="#fff" stroke="#000" stroke-width="1.25" stroke-linejoin="miter"/>
<path d="M299.25 531.82L302.32 537.35L296.17 537.35Z" fill="#fff" stroke="#000" stroke-width="1.25" stroke-linejoin="miter"/>
<path d="M306.61 531.82L309.68 537.35L303.53 537.35Z" fill="#fff" stroke="#000" stroke-width="1.25" stroke-linejoin="miter"/>
<path d="M313.97 531.82L317.05 537.35L310.90 537.35Z" fill="#fff" stroke="#000" stroke-width="1.25" stroke-linejoin="miter"/>
<path d="M321.34 531.82L324.41 537.35L318.26 537.35Z" fill="#fff" stroke="#000" stroke-width="1.25" stroke-linejoin="miter"/>
<path d="M328.70 531.82L331.78 537.35L325.63 537.35Z" fill="#fff" stroke="#000" stroke-width="1.25" stroke-linejoin="miter"/>
<path d="M336.07 531.82L339.14 537.35L332.99 537.35Z" fill="#fff" stroke="#000" stroke-width="1.25" stroke-linejoin="miter"/>
<path d="M343.43 531.82L346.51 537.35L340.36 537.35Z" fill="#fff" stroke="#000" stroke-width="1.25" stroke-linejoin="miter"/>
<path d="M350.80 531.82L353.87 537.35L347.72 537.35Z" fill="#fff" stroke="#000" stroke-width="1.25" stroke-linejoin="miter"/>
<path d="M358.16 531.82L361.24 537.35L355.09 537.35Z" fill="#fff" stroke="#000" stroke-width="1.25" stroke-linejoin="miter"/>
<path d="M365.52 531.82L368.60 537.35L362.45 537.35Z" fill="#fff" stroke="#000" stroke-width="1.25" stroke-linejoin="miter"/>
<path d="M372.89 531.82L375.96 537.35L369.81 537.35Z" fill="#fff" stroke="#000" stroke-width="1.25" stroke-linejoin="miter"/>
<polyline points="70.95,535.60 78.32,522.12 85.68,500.30 93.04,489.67 100.41,497.39 107.77,505.60 115.14,512.05 122.50,517.94 129.87,521.91 137.23,524.41 144.59,526.18 151.96,527.65 159.32,528.68 166.69,529.56 174.05,530.15 181.42,530.60 188.78,530.95 196.14,531.18 203.51,531.39 210.87,531.54 218.24,531.66 225.60,531.77 232.97,531.86 240.33,531.95 247.70,532.04 255.06,532.13 262.42,532.18 269.79,532.24 277.15,532.30 284.52,532.36 291.88,532.42 299.25,532.48 306.61,532.54 313.97,532.60 321.34,532.66 328.70,532.71 336.07,532.77 343.43,532.83 350.80,532.89 358.16,532.95 365.52,533.01 372.89,533.07" fill="none" stroke="#000" stroke-width="0.9"/>
<path d="M70.95 531.90L74.65 535.60L70.95 539.30L67.25 535.60Z" fill="#000"/>
<path d="M78.32 518.42L82.02 522.12L78.32 525.82L74.62 522.12Z" fill="#000"/>
<path d="M85.68 496.60L89.38 500.30L85.68 504.00L81.98 500.30Z" fill="#000"/>
<path d="M93.04 485.97L96.74 489.67L93.04 493.37L89.34 489.67Z" fill="#000"/>
<path d="M100.41 493.69L104.11 497.39L100.41 501.09L96.71 497.39Z" fill="#000"/>
<path d="M107.77 501.90L111.47 505.60L107.77 509.30L104.07 505.60Z" fill="#000"/>
<path d="M115.14 508.35L118.84 512.05L115.14 515.75L111.44 512.05Z" fill="#000"/>
<path d="M122.50 514.24L126.20 517.94L122.50 521.64L118.80 517.94Z" fill="#000"/>
<path d="M129.87 518.21L133.57 521.91L129.87 525.61L126.17 521.91Z" fill="#000"/>
<path d="M137.23 520.71L140.93 524.41L137.23 528.11L133.53 524.41Z" fill="#000"/>
<path d="M144.59 522.48L148.29 526.18L144.59 529.88L140.89 526.18Z" fill="#000"/>
<path d="M151.96 523.95L155.66 527.65L151.96 531.35L148.26 527.65Z" fill="#000"/>
<path d="M159.32 524.98L163.02 528.68L159.32 532.38L155.62 528.68Z" fill="#000"/>
<path d="M166.69 525.86L170.39 529.56L166.69 533.26L162.99 529.56Z" fill="#000"/>
<path d="M174.05 526.45L177.75 530.15L174.05 533.85L170.35 530.15Z" fill="#000"/>
<path d="M181.42 526.90L185.12 530.60L181.42 534.30L177.72 530.60Z" fill="#000"/>
<path d="M188.78 527.25L192.48 530.95L188.78 534.65L185.08 530.95Z" fill="#000"/>
<path d="M196.14 527.48L199.84 531.18L196.14 534.88L192.44 531.18Z" fill="#000"/>
<path d="M203.51 527.69L207.21 531.39L203.51 535.09L199.81 531.39Z" fill="#000"/>
<path d="M210.87 527.84L214.57 531.54L210.87 535.24L207.17 531.54Z" fill="#000"/>
<path d="M218.24 527.96L221.94 531.66L218.24 535.36L214.54 531.66Z" fill="#000"/>
<path d="M225.60 528.07L229.30 531.77L225.60 535.47L221.90 531.77Z" fill="#000"/>
<path d="M232.97 528.16L236.67 531.86L232.97 535.56L229.27 531.86Z" fill="#000"/>
<path d="M240.33 528.25L244.03 531.95L240.33 535.65L236.63 531.95Z" fill="#000"/>
<path d="M247.70 528.34L251.40 532.04L247.70 535.74L244.00 532.04Z" fill="#000"/>
<path d="M255.06 528.43L258.76 532.13L255.06 535.83L251.36 532.13Z" fill="#000"/>
<path d="M262.42 528.48L266.12 532.18L262.42 535.88L258.72 532.18Z" fill="#000"/>
<path d="M269.79 528.54L273.49 532.24L269.79 535.94L266.09 532.24Z" fill="#000"/>
<path d="M277.15 528.60L280.85 532.30L277.15 536.00L273.45 532.30Z" fill="#000"/>
<path d="M284.52 528.66L288.22 532.36L284.52 536.06L280.82 532.36Z" fill="#000"/>
<path d="M291.88 528.72L295.58 532.42L291.88 536.12L288.18 532.42Z" fill="#000"/>
<path d="M299.25 528.78L302.95 532.48L299.25 536.18L295.55 532.48Z" fill="#000"/>
<path d="M306.61 528.84L310.31 532.54L306.61 536.24L302.91 532.54Z" fill="#000"/>
<path d="M313.97 528.90L317.67 532.60L313.97 536.30L310.27 532.60Z" fill="#000"/>
<path d="M321.34 528.96L325.04 532.66L321.34 536.36L317.64 532.66Z" fill="#000"/>
<path d="M328.70 529.01L332.40 532.71L328.70 536.41L325.00 532.71Z" fill="#000"/>
<path d="M336.07 529.07L339.77 532.77L336.07 536.47L332.37 532.77Z" fill="#000"/>
<path d="M343.43 529.13L347.13 532.83L343.43 536.53L339.73 532.83Z" fill="#000"/>
<path d="M350.80 529.19L354.50 532.89L350.80 536.59L347.10 532.89Z" fill="#000"/>
<path d="M358.16 529.25L361.86 532.95L358.16 536.65L354.46 532.95Z" fill="#000"/>
<path d="M365.52 529.31L369.22 533.01L365.52 536.71L361.82 533.01Z" fill="#000"/>
<path d="M372.89 529.37L376.59 533.07L372.89 536.77L369.19 533.07Z" fill="#000"/>
<polyline points="70.95,535.60 78.32,514.40 85.68,476.19 93.04,473.69 100.41,486.11 107.77,500.80 115.14,511.81 122.50,517.64 129.87,521.47 137.23,524.12 144.59,525.71 151.96,526.77 159.32,527.50 166.69,528.09 174.05,528.53 181.42,528.89 188.78,529.18 196.14,529.42 203.51,529.59 210.87,529.74 218.24,529.86 225.60,529.98 232.97,530.07 240.33,530.15 247.70,530.24 255.06,530.30 262.42,530.36 269.79,530.42 277.15,530.48 284.52,530.54 291.88,530.60 299.25,530.65 306.61,530.71 313.97,530.77 321.34,530.83 328.70,530.89 336.07,530.95 343.43,531.01 350.80,531.07 358.16,531.13 365.52,531.15 372.89,531.18" fill="none" stroke="#000" stroke-width="0.9"/>
<circle cx="70.95" cy="535.60" r="3.60" fill="#000"/>
<circle cx="78.32" cy="514.40" r="3.60" fill="#000"/>
<circle cx="85.68" cy="476.19" r="3.60" fill="#000"/>
<circle cx="93.04" cy="473.69" r="3.60" fill="#000"/>
<circle cx="100.41" cy="486.11" r="3.60" fill="#000"/>
<circle cx="107.77" cy="500.80" r="3.60" fill="#000"/>
<circle cx="115.14" cy="511.81" r="3.60" fill="#000"/>
<circle cx="122.50" cy="517.64" r="3.60" fill="#000"/>
<circle cx="129.87" cy="521.47" r="3.60" fill="#000"/>
<circle cx="137.23" cy="524.12" r="3.60" fill="#000"/>
<circle cx="144.59" cy="525.71" r="3.60" fill="#000"/>
<circle cx="151.96" cy="526.77" r="3.60" fill="#000"/>
<circle cx="159.32" cy="527.50" r="3.60" fill="#000"/>
<circle cx="166.69" cy="528.09" r="3.60" fill="#000"/>
<circle cx="174.05" cy="528.53" r="3.60" fill="#000"/>
<circle cx="181.42" cy="528.89" r="3.60" fill="#000"/>
<circle cx="188.78" cy="529.18" r="3.60" fill="#000"/>
<circle cx="196.14" cy="529.42" r="3.60" fill="#000"/>
<circle cx="203.51" cy="529.59" r="3.60" fill="#000"/>
<circle cx="210.87" cy="529.74" r="3.60" fill="#000"/>
<circle cx="218.24" cy="529.86" r="3.60" fill="#000"/>
<circle cx="225.60" cy="529.98" r="3.60" fill="#000"/>
<circle cx="232.97" cy="530.07" r="3.60" fill="#000"/>
<circle cx="240.33" cy="530.15" r="3.60" fill="#000"/>
<circle cx="247.70" cy="530.24" r="3.60" fill="#000"/>
<circle cx="255.06" cy="530.30" r="3.60" fill="#000"/>
<circle cx="262.42" cy="530.36" r="3.60" fill="#000"/>
<circle cx="269.79" cy="530.42" r="3.60" fill="#000"/>
<circle cx="277.15" cy="530.48" r="3.60" fill="#000"/>
<circle cx="284.52" cy="530.54" r="3.60" fill="#000"/>
<circle cx="291.88" cy="530.60" r="3.60" fill="#000"/>
<circle cx="299.25" cy="530.65" r="3.60" fill="#000"/>
<circle cx="306.61" cy="530.71" r="3.60" fill="#000"/>
<circle cx="313.97" cy="530.77" r="3.60" fill="#000"/>
<circle cx="321.34" cy="530.83" r="3.60" fill="#000"/>
<circle cx="328.70" cy="530.89" r="3.60" fill="#000"/>
<circle cx="336.07" cy="530.95" r="3.60" fill="#000"/>
<circle cx="343.43" cy="531.01" r="3.60" fill="#000"/>
<circle cx="350.80" cy="531.07" r="3.60" fill="#000"/>
<circle cx="358.16" cy="531.13" r="3.60" fill="#000"/>
<circle cx="365.52" cy="531.15" r="3.60" fill="#000"/>
<circle cx="372.89" cy="531.18" r="3.60" fill="#000"/>
<polyline points="70.95,535.60 78.32,535.60 85.68,521.06 93.04,491.29 100.41,452.90 107.77,419.52 115.14,398.50 122.50,393.99 129.87,397.08 137.23,396.20 144.59,394.99 151.96,392.79 159.32,384.98 166.69,377.21 174.05,366.29 181.42,358.99 188.78,354.69 196.14,352.48 203.51,353.10 210.87,356.69 218.24,362.11 225.60,370.41 232.97,379.30 240.33,390.40 247.70,401.50 255.06,410.10 262.42,418.81 269.79,427.41 277.15,433.59 284.52,439.63 291.88,445.51 299.25,451.11 306.61,457.58 313.97,461.91 321.34,465.09 328.70,469.10 336.07,472.51 343.43,475.40 350.80,479.99 358.16,481.14 365.52,484.67 372.89,487.32" fill="none" stroke="#000" stroke-width="0.9"/>
<rect x="67.55" y="532.20" width="6.80" height="6.80" fill="#000"/>
<rect x="74.92" y="532.20" width="6.80" height="6.80" fill="#000"/>
<rect x="82.28" y="517.66" width="6.80" height="6.80" fill="#000"/>
<rect x="89.64" y="487.89" width="6.80" height="6.80" fill="#000"/>
<rect x="97.01" y="449.50" width="6.80" height="6.80" fill="#000"/>
<rect x="104.37" y="416.12" width="6.80" height="6.80" fill="#000"/>
<rect x="111.74" y="395.10" width="6.80" height="6.80" fill="#000"/>
<rect x="119.10" y="390.59" width="6.80" height="6.80" fill="#000"/>
<rect x="126.47" y="393.68" width="6.80" height="6.80" fill="#000"/>
<rect x="133.83" y="392.80" width="6.80" height="6.80" fill="#000"/>
<rect x="141.19" y="391.59" width="6.80" height="6.80" fill="#000"/>
<rect x="148.56" y="389.39" width="6.80" height="6.80" fill="#000"/>
<rect x="155.92" y="381.58" width="6.80" height="6.80" fill="#000"/>
<rect x="163.29" y="373.81" width="6.80" height="6.80" fill="#000"/>
<rect x="170.65" y="362.89" width="6.80" height="6.80" fill="#000"/>
<rect x="178.02" y="355.59" width="6.80" height="6.80" fill="#000"/>
<rect x="185.38" y="351.29" width="6.80" height="6.80" fill="#000"/>
<rect x="192.74" y="349.08" width="6.80" height="6.80" fill="#000"/>
<rect x="200.11" y="349.70" width="6.80" height="6.80" fill="#000"/>
<rect x="207.47" y="353.29" width="6.80" height="6.80" fill="#000"/>
<rect x="214.84" y="358.71" width="6.80" height="6.80" fill="#000"/>
<rect x="222.20" y="367.01" width="6.80" height="6.80" fill="#000"/>
<rect x="229.57" y="375.90" width="6.80" height="6.80" fill="#000"/>
<rect x="236.93" y="387.00" width="6.80" height="6.80" fill="#000"/>
<rect x="244.30" y="398.10" width="6.80" height="6.80" fill="#000"/>
<rect x="251.66" y="406.70" width="6.80" height="6.80" fill="#000"/>
<rect x="259.02" y="415.41" width="6.80" height="6.80" fill="#000"/>
<rect x="266.39" y="424.01" width="6.80" height="6.80" fill="#000"/>
<rect x="273.75" y="430.19" width="6.80" height="6.80" fill="#000"/>
<rect x="281.12" y="436.23" width="6.80" height="6.80" fill="#000"/>
<rect x="288.48" y="442.11" width="6.80" height="6.80" fill="#000"/>
<rect x="295.85" y="447.71" width="6.80" height="6.80" fill="#000"/>
<rect x="303.21" y="454.18" width="6.80" height="6.80" fill="#000"/>
<rect x="310.57" y="458.51" width="6.80" height="6.80" fill="#000"/>
<rect x="317.94" y="461.69" width="6.80" height="6.80" fill="#000"/>
<rect x="325.30" y="465.70" width="6.80" height="6.80" fill="#000"/>
<rect x="332.67" y="469.11" width="6.80" height="6.80" fill="#000"/>
<rect x="340.03" y="472.00" width="6.80" height="6.80" fill="#000"/>
<rect x="347.40" y="476.59" width="6.80" height="6.80" fill="#000"/>
<rect x="354.76" y="477.74" width="6.80" height="6.80" fill="#000"/>
<rect x="362.12" y="481.27" width="6.80" height="6.80" fill="#000"/>
<rect x="369.49" y="483.92" width="6.80" height="6.80" fill="#000"/>
</svg>
</body></html>
